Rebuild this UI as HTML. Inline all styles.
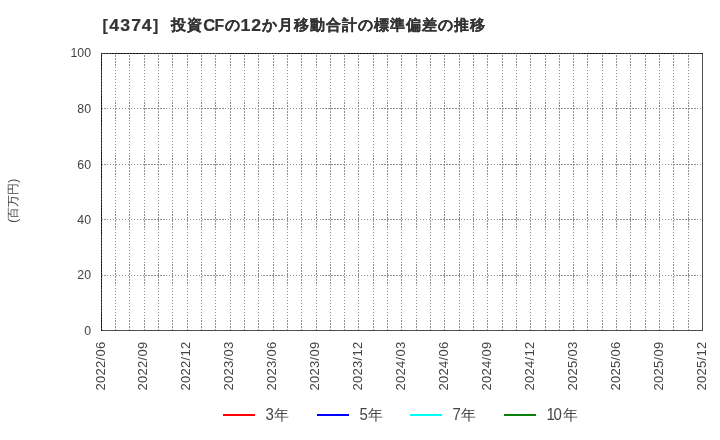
<!DOCTYPE html>
<html><head><meta charset="utf-8"><style>
html,body{margin:0;padding:0;background:#fff;width:720px;height:440px;overflow:hidden}
svg{display:block;will-change:transform} line,rect,path{shape-rendering:crispEdges}
text{font-family:"Liberation Sans",sans-serif;fill:#333}
.g{stroke:#8a8a8a;stroke-width:1;stroke-dasharray:1.963 0.981;fill:none;shape-rendering:auto}
.yl{font-size:13px;fill:#444}
.xl{font-size:13px;letter-spacing:0.3px;fill:#444}
.tl{font-size:15.8px;font-weight:bold;text-anchor:middle;stroke:#333;stroke-width:0.2px}
.tj{font-size:15px;font-weight:bold;text-anchor:middle;stroke:#333;stroke-width:0.15px}
.lg{font-size:15px;fill:#444}
</style></head><body>
<svg width="720" height="440" viewBox="0 0 720 440">
<text transform="translate(105.2,31) scale(1.0,1)" class="tl">[</text>
<text transform="translate(114.1,31) scale(1.12,1)" class="tl">4</text>
<text transform="translate(125.1,31) scale(1.12,1)" class="tl">3</text>
<text transform="translate(136.2,31) scale(1.12,1)" class="tl">7</text>
<text transform="translate(146.7,31) scale(1.12,1)" class="tl">4</text>
<text transform="translate(155.7,31) scale(1.0,1)" class="tl">]</text>
<text transform="translate(178.6,30) scale(1.0,1)" class="tj">投</text>
<text transform="translate(194.6,30) scale(1.0,1)" class="tj">資</text>
<text transform="translate(209.3,31) scale(1.05,1)" class="tl">C</text>
<text transform="translate(219.4,31) scale(1.0,1)" class="tl">F</text>
<text transform="translate(232.1,30) scale(1.0,1)" class="tj">の</text>
<text transform="translate(245.3,31) scale(1.12,1)" class="tl">1</text>
<text transform="translate(256.1,31) scale(1.12,1)" class="tl">2</text>
<text transform="translate(269.2,30) scale(1.0,1)" class="tj">か</text>
<text transform="translate(285,30) scale(1.0,1)" class="tj">月</text>
<text transform="translate(301,30) scale(1.0,1)" class="tj">移</text>
<text transform="translate(317,30) scale(1.0,1)" class="tj">動</text>
<text transform="translate(333,30) scale(1.0,1)" class="tj">合</text>
<text transform="translate(349,30) scale(1.0,1)" class="tj">計</text>
<text transform="translate(365,30) scale(1.0,1)" class="tj">の</text>
<text transform="translate(381,30) scale(1.0,1)" class="tj">標</text>
<text transform="translate(397,30) scale(1.0,1)" class="tj">準</text>
<text transform="translate(413,30) scale(1.0,1)" class="tj">偏</text>
<text transform="translate(429,30) scale(1.0,1)" class="tj">差</text>
<text transform="translate(445.5,30) scale(1.0,1)" class="tj">の</text>
<text transform="translate(461.5,30) scale(1.0,1)" class="tj">推</text>
<text transform="translate(477.3,30) scale(1.0,1)" class="tj">移</text>
<path fill="#000" fill-opacity="0.438" d="M115 55h1v2h-1zM115 58h1v2h-1zM115 61h1v2h-1zM115 64h1v2h-1zM115 67h1v1h-1zM115 70h1v1h-1zM115 73h1v1h-1zM115 76h1v1h-1zM115 79h1v1h-1zM115 82h1v1h-1zM115 85h1v1h-1zM115 88h1v1h-1zM115 91h1v1h-1zM115 94h1v1h-1zM115 97h1v1h-1zM115 100h1v1h-1zM115 102h1v2h-1zM115 105h1v2h-1zM115 108h1v2h-1zM115 111h1v2h-1zM115 114h1v2h-1zM115 117h1v2h-1zM115 120h1v1h-1zM115 123h1v1h-1zM115 126h1v1h-1zM115 129h1v1h-1zM115 132h1v1h-1zM115 135h1v1h-1zM115 138h1v1h-1zM115 141h1v1h-1zM115 144h1v1h-1zM115 147h1v1h-1zM115 150h1v1h-1zM115 153h1v1h-1zM115 155h1v2h-1zM115 158h1v2h-1zM115 161h1v2h-1zM115 164h1v2h-1zM115 167h1v2h-1zM115 170h1v2h-1zM115 173h1v2h-1zM115 176h1v1h-1zM115 179h1v1h-1zM115 182h1v1h-1zM115 185h1v1h-1zM115 188h1v1h-1zM115 191h1v1h-1zM115 194h1v1h-1zM115 197h1v1h-1zM115 200h1v1h-1zM115 203h1v1h-1zM115 206h1v1h-1zM115 209h1v1h-1zM115 211h1v2h-1zM115 214h1v2h-1zM115 217h1v2h-1zM115 220h1v2h-1zM115 223h1v2h-1zM115 226h1v2h-1zM115 229h1v1h-1zM115 232h1v1h-1zM115 235h1v1h-1zM115 238h1v1h-1zM115 241h1v1h-1zM115 244h1v1h-1zM115 247h1v1h-1zM115 250h1v1h-1zM115 253h1v1h-1zM115 256h1v1h-1zM115 259h1v1h-1zM115 262h1v1h-1zM115 264h1v2h-1zM115 267h1v2h-1zM115 270h1v2h-1zM115 273h1v2h-1zM115 276h1v2h-1zM115 279h1v2h-1zM115 282h1v2h-1zM115 285h1v1h-1zM115 288h1v1h-1zM115 291h1v1h-1zM115 294h1v1h-1zM115 297h1v1h-1zM115 300h1v1h-1zM115 303h1v1h-1zM115 306h1v1h-1zM115 309h1v1h-1zM115 312h1v1h-1zM115 315h1v1h-1zM115 318h1v1h-1zM115 320h1v2h-1zM115 323h1v2h-1zM115 326h1v2h-1zM115 329h1v1h-1zM129 55h1v2h-1zM129 58h1v2h-1zM129 61h1v2h-1zM129 64h1v2h-1zM129 67h1v1h-1zM129 70h1v1h-1zM129 73h1v1h-1zM129 76h1v1h-1zM129 79h1v1h-1zM129 82h1v1h-1zM129 85h1v1h-1zM129 88h1v1h-1zM129 91h1v1h-1zM129 94h1v1h-1zM129 97h1v1h-1zM129 100h1v1h-1zM129 102h1v2h-1zM129 105h1v2h-1zM129 108h1v2h-1zM129 111h1v2h-1zM129 114h1v2h-1zM129 117h1v2h-1zM129 120h1v1h-1zM129 123h1v1h-1zM129 126h1v1h-1zM129 129h1v1h-1zM129 132h1v1h-1zM129 135h1v1h-1zM129 138h1v1h-1zM129 141h1v1h-1zM129 144h1v1h-1zM129 147h1v1h-1zM129 150h1v1h-1zM129 153h1v1h-1zM129 155h1v2h-1zM129 158h1v2h-1zM129 161h1v2h-1zM129 164h1v2h-1zM129 167h1v2h-1zM129 170h1v2h-1zM129 173h1v2h-1zM129 176h1v1h-1zM129 179h1v1h-1zM129 182h1v1h-1zM129 185h1v1h-1zM129 188h1v1h-1zM129 191h1v1h-1zM129 194h1v1h-1zM129 197h1v1h-1zM129 200h1v1h-1zM129 203h1v1h-1zM129 206h1v1h-1zM129 209h1v1h-1zM129 211h1v2h-1zM129 214h1v2h-1zM129 217h1v2h-1zM129 220h1v2h-1zM129 223h1v2h-1zM129 226h1v2h-1zM129 229h1v1h-1zM129 232h1v1h-1zM129 235h1v1h-1zM129 238h1v1h-1zM129 241h1v1h-1zM129 244h1v1h-1zM129 247h1v1h-1zM129 250h1v1h-1zM129 253h1v1h-1zM129 256h1v1h-1zM129 259h1v1h-1zM129 262h1v1h-1zM129 264h1v2h-1zM129 267h1v2h-1zM129 270h1v2h-1zM129 273h1v2h-1zM129 276h1v2h-1zM129 279h1v2h-1zM129 282h1v2h-1zM129 285h1v1h-1zM129 288h1v1h-1zM129 291h1v1h-1zM129 294h1v1h-1zM129 297h1v1h-1zM129 300h1v1h-1zM129 303h1v1h-1zM129 306h1v1h-1zM129 309h1v1h-1zM129 312h1v1h-1zM129 315h1v1h-1zM129 318h1v1h-1zM129 320h1v2h-1zM129 323h1v2h-1zM129 326h1v2h-1zM129 329h1v1h-1zM144 55h1v2h-1zM144 58h1v2h-1zM144 61h1v2h-1zM144 64h1v2h-1zM144 67h1v1h-1zM144 70h1v1h-1zM144 73h1v1h-1zM144 76h1v1h-1zM144 79h1v1h-1zM144 82h1v1h-1zM144 85h1v1h-1zM144 88h1v1h-1zM144 91h1v1h-1zM144 94h1v1h-1zM144 97h1v1h-1zM144 100h1v1h-1zM144 102h1v2h-1zM144 105h1v2h-1zM144 108h1v2h-1zM144 111h1v2h-1zM144 114h1v2h-1zM144 117h1v2h-1zM144 120h1v1h-1zM144 123h1v1h-1zM144 126h1v1h-1zM144 129h1v1h-1zM144 132h1v1h-1zM144 135h1v1h-1zM144 138h1v1h-1zM144 141h1v1h-1zM144 144h1v1h-1zM144 147h1v1h-1zM144 150h1v1h-1zM144 153h1v1h-1zM144 155h1v2h-1zM144 158h1v2h-1zM144 161h1v2h-1zM144 164h1v2h-1zM144 167h1v2h-1zM144 170h1v2h-1zM144 173h1v2h-1zM144 176h1v1h-1zM144 179h1v1h-1zM144 182h1v1h-1zM144 185h1v1h-1zM144 188h1v1h-1zM144 191h1v1h-1zM144 194h1v1h-1zM144 197h1v1h-1zM144 200h1v1h-1zM144 203h1v1h-1zM144 206h1v1h-1zM144 209h1v1h-1zM144 211h1v2h-1zM144 214h1v2h-1zM144 217h1v2h-1zM144 220h1v2h-1zM144 223h1v2h-1zM144 226h1v2h-1zM144 229h1v1h-1zM144 232h1v1h-1zM144 235h1v1h-1zM144 238h1v1h-1zM144 241h1v1h-1zM144 244h1v1h-1zM144 247h1v1h-1zM144 250h1v1h-1zM144 253h1v1h-1zM144 256h1v1h-1zM144 259h1v1h-1zM144 262h1v1h-1zM144 264h1v2h-1zM144 267h1v2h-1zM144 270h1v2h-1zM144 273h1v2h-1zM144 276h1v2h-1zM144 279h1v2h-1zM144 282h1v2h-1zM144 285h1v1h-1zM144 288h1v1h-1zM144 291h1v1h-1zM144 294h1v1h-1zM144 297h1v1h-1zM144 300h1v1h-1zM144 303h1v1h-1zM144 306h1v1h-1zM144 309h1v1h-1zM144 312h1v1h-1zM144 315h1v1h-1zM144 318h1v1h-1zM144 320h1v2h-1zM144 323h1v2h-1zM144 326h1v2h-1zM144 329h1v1h-1zM158 55h1v2h-1zM158 58h1v2h-1zM158 61h1v2h-1zM158 64h1v2h-1zM158 67h1v1h-1zM158 70h1v1h-1zM158 73h1v1h-1zM158 76h1v1h-1zM158 79h1v1h-1zM158 82h1v1h-1zM158 85h1v1h-1zM158 88h1v1h-1zM158 91h1v1h-1zM158 94h1v1h-1zM158 97h1v1h-1zM158 100h1v1h-1zM158 102h1v2h-1zM158 105h1v2h-1zM158 108h1v2h-1zM158 111h1v2h-1zM158 114h1v2h-1zM158 117h1v2h-1zM158 120h1v1h-1zM158 123h1v1h-1zM158 126h1v1h-1zM158 129h1v1h-1zM158 132h1v1h-1zM158 135h1v1h-1zM158 138h1v1h-1zM158 141h1v1h-1zM158 144h1v1h-1zM158 147h1v1h-1zM158 150h1v1h-1zM158 153h1v1h-1zM158 155h1v2h-1zM158 158h1v2h-1zM158 161h1v2h-1zM158 164h1v2h-1zM158 167h1v2h-1zM158 170h1v2h-1zM158 173h1v2h-1zM158 176h1v1h-1zM158 179h1v1h-1zM158 182h1v1h-1zM158 185h1v1h-1zM158 188h1v1h-1zM158 191h1v1h-1zM158 194h1v1h-1zM158 197h1v1h-1zM158 200h1v1h-1zM158 203h1v1h-1zM158 206h1v1h-1zM158 209h1v1h-1zM158 211h1v2h-1zM158 214h1v2h-1zM158 217h1v5h-1zM158 223h1v2h-1zM158 226h1v2h-1zM158 229h1v1h-1zM158 232h1v1h-1zM158 235h1v1h-1zM158 238h1v1h-1zM158 241h1v1h-1zM158 244h1v1h-1zM158 247h1v1h-1zM158 250h1v1h-1zM158 253h1v1h-1zM158 256h1v1h-1zM158 259h1v1h-1zM158 262h1v1h-1zM158 264h1v2h-1zM158 267h1v2h-1zM158 270h1v2h-1zM158 273h1v5h-1zM158 279h1v2h-1zM158 282h1v2h-1zM158 285h1v1h-1zM158 288h1v1h-1zM158 291h1v1h-1zM158 294h1v1h-1zM158 297h1v1h-1zM158 300h1v1h-1zM158 303h1v1h-1zM158 306h1v1h-1zM158 309h1v1h-1zM158 312h1v1h-1zM158 315h1v1h-1zM158 318h1v1h-1zM158 320h1v2h-1zM158 323h1v2h-1zM158 326h1v2h-1zM158 329h1v1h-1zM172 55h1v2h-1zM172 58h1v2h-1zM172 61h1v2h-1zM172 64h1v2h-1zM172 67h1v1h-1zM172 70h1v1h-1zM172 73h1v1h-1zM172 76h1v1h-1zM172 79h1v1h-1zM172 82h1v1h-1zM172 85h1v1h-1zM172 88h1v1h-1zM172 91h1v1h-1zM172 94h1v1h-1zM172 97h1v1h-1zM172 100h1v1h-1zM172 102h1v2h-1zM172 105h1v2h-1zM172 108h1v2h-1zM172 111h1v2h-1zM172 114h1v2h-1zM172 117h1v2h-1zM172 120h1v1h-1zM172 123h1v1h-1zM172 126h1v1h-1zM172 129h1v1h-1zM172 132h1v1h-1zM172 135h1v1h-1zM172 138h1v1h-1zM172 141h1v1h-1zM172 144h1v1h-1zM172 147h1v1h-1zM172 150h1v1h-1zM172 153h1v1h-1zM172 155h1v2h-1zM172 158h1v2h-1zM172 161h1v2h-1zM172 164h1v2h-1zM172 167h1v2h-1zM172 170h1v2h-1zM172 173h1v2h-1zM172 176h1v1h-1zM172 179h1v1h-1zM172 182h1v1h-1zM172 185h1v1h-1zM172 188h1v1h-1zM172 191h1v1h-1zM172 194h1v1h-1zM172 197h1v1h-1zM172 200h1v1h-1zM172 203h1v1h-1zM172 206h1v1h-1zM172 209h1v1h-1zM172 211h1v2h-1zM172 214h1v2h-1zM172 217h1v5h-1zM172 223h1v2h-1zM172 226h1v2h-1zM172 229h1v1h-1zM172 232h1v1h-1zM172 235h1v1h-1zM172 238h1v1h-1zM172 241h1v1h-1zM172 244h1v1h-1zM172 247h1v1h-1zM172 250h1v1h-1zM172 253h1v1h-1zM172 256h1v1h-1zM172 259h1v1h-1zM172 262h1v1h-1zM172 264h1v2h-1zM172 267h1v2h-1zM172 270h1v2h-1zM172 273h1v5h-1zM172 279h1v2h-1zM172 282h1v2h-1zM172 285h1v1h-1zM172 288h1v1h-1zM172 291h1v1h-1zM172 294h1v1h-1zM172 297h1v1h-1zM172 300h1v1h-1zM172 303h1v1h-1zM172 306h1v1h-1zM172 309h1v1h-1zM172 312h1v1h-1zM172 315h1v1h-1zM172 318h1v1h-1zM172 320h1v2h-1zM172 323h1v2h-1zM172 326h1v2h-1zM172 329h1v1h-1zM187 55h1v2h-1zM187 58h1v2h-1zM187 61h1v2h-1zM187 64h1v2h-1zM187 67h1v1h-1zM187 70h1v1h-1zM187 73h1v1h-1zM187 76h1v1h-1zM187 79h1v1h-1zM187 82h1v1h-1zM187 85h1v1h-1zM187 88h1v1h-1zM187 91h1v1h-1zM187 94h1v1h-1zM187 97h1v1h-1zM187 100h1v1h-1zM187 102h1v2h-1zM187 105h1v2h-1zM187 108h1v2h-1zM187 111h1v2h-1zM187 114h1v2h-1zM187 117h1v2h-1zM187 120h1v1h-1zM187 123h1v1h-1zM187 126h1v1h-1zM187 129h1v1h-1zM187 132h1v1h-1zM187 135h1v1h-1zM187 138h1v1h-1zM187 141h1v1h-1zM187 144h1v1h-1zM187 147h1v1h-1zM187 150h1v1h-1zM187 153h1v1h-1zM187 155h1v2h-1zM187 158h1v2h-1zM187 161h1v2h-1zM187 164h1v2h-1zM187 167h1v2h-1zM187 170h1v2h-1zM187 173h1v2h-1zM187 176h1v1h-1zM187 179h1v1h-1zM187 182h1v1h-1zM187 185h1v1h-1zM187 188h1v1h-1zM187 191h1v1h-1zM187 194h1v1h-1zM187 197h1v1h-1zM187 200h1v1h-1zM187 203h1v1h-1zM187 206h1v1h-1zM187 209h1v1h-1zM187 211h1v2h-1zM187 214h1v2h-1zM187 217h1v5h-1zM187 223h1v2h-1zM187 226h1v2h-1zM187 229h1v1h-1zM187 232h1v1h-1zM187 235h1v1h-1zM187 238h1v1h-1zM187 241h1v1h-1zM187 244h1v1h-1zM187 247h1v1h-1zM187 250h1v1h-1zM187 253h1v1h-1zM187 256h1v1h-1zM187 259h1v1h-1zM187 262h1v1h-1zM187 264h1v2h-1zM187 267h1v2h-1zM187 270h1v2h-1zM187 273h1v5h-1zM187 279h1v2h-1zM187 282h1v2h-1zM187 285h1v1h-1zM187 288h1v1h-1zM187 291h1v1h-1zM187 294h1v1h-1zM187 297h1v1h-1zM187 300h1v1h-1zM187 303h1v1h-1zM187 306h1v1h-1zM187 309h1v1h-1zM187 312h1v1h-1zM187 315h1v1h-1zM187 318h1v1h-1zM187 320h1v2h-1zM187 323h1v2h-1zM187 326h1v2h-1zM187 329h1v1h-1zM201 55h1v2h-1zM201 58h1v2h-1zM201 61h1v2h-1zM201 64h1v2h-1zM201 67h1v1h-1zM201 70h1v1h-1zM201 73h1v1h-1zM201 76h1v1h-1zM201 79h1v1h-1zM201 82h1v1h-1zM201 85h1v1h-1zM201 88h1v1h-1zM201 91h1v1h-1zM201 94h1v1h-1zM201 97h1v1h-1zM201 100h1v1h-1zM201 102h1v2h-1zM201 105h1v2h-1zM201 108h1v2h-1zM201 111h1v2h-1zM201 114h1v2h-1zM201 117h1v2h-1zM201 120h1v1h-1zM201 123h1v1h-1zM201 126h1v1h-1zM201 129h1v1h-1zM201 132h1v1h-1zM201 135h1v1h-1zM201 138h1v1h-1zM201 141h1v1h-1zM201 144h1v1h-1zM201 147h1v1h-1zM201 150h1v1h-1zM201 153h1v1h-1zM201 155h1v2h-1zM201 158h1v2h-1zM201 161h1v2h-1zM201 164h1v2h-1zM201 167h1v2h-1zM201 170h1v2h-1zM201 173h1v2h-1zM201 176h1v1h-1zM201 179h1v1h-1zM201 182h1v1h-1zM201 185h1v1h-1zM201 188h1v1h-1zM201 191h1v1h-1zM201 194h1v1h-1zM201 197h1v1h-1zM201 200h1v1h-1zM201 203h1v1h-1zM201 206h1v1h-1zM201 209h1v1h-1zM201 211h1v2h-1zM201 214h1v2h-1zM201 217h1v2h-1zM201 220h1v2h-1zM201 223h1v2h-1zM201 226h1v2h-1zM201 229h1v1h-1zM201 232h1v1h-1zM201 235h1v1h-1zM201 238h1v1h-1zM201 241h1v1h-1zM201 244h1v1h-1zM201 247h1v1h-1zM201 250h1v1h-1zM201 253h1v1h-1zM201 256h1v1h-1zM201 259h1v1h-1zM201 262h1v1h-1zM201 264h1v2h-1zM201 267h1v2h-1zM201 270h1v2h-1zM201 273h1v2h-1zM201 276h1v2h-1zM201 279h1v2h-1zM201 282h1v2h-1zM201 285h1v1h-1zM201 288h1v1h-1zM201 291h1v1h-1zM201 294h1v1h-1zM201 297h1v1h-1zM201 300h1v1h-1zM201 303h1v1h-1zM201 306h1v1h-1zM201 309h1v1h-1zM201 312h1v1h-1zM201 315h1v1h-1zM201 318h1v1h-1zM201 320h1v2h-1zM201 323h1v2h-1zM201 326h1v2h-1zM201 329h1v1h-1zM215 55h1v2h-1zM215 58h1v2h-1zM215 61h1v2h-1zM215 64h1v2h-1zM215 67h1v1h-1zM215 70h1v1h-1zM215 73h1v1h-1zM215 76h1v1h-1zM215 79h1v1h-1zM215 82h1v1h-1zM215 85h1v1h-1zM215 88h1v1h-1zM215 91h1v1h-1zM215 94h1v1h-1zM215 97h1v1h-1zM215 100h1v1h-1zM215 102h1v2h-1zM215 105h1v2h-1zM215 108h1v2h-1zM215 111h1v2h-1zM215 114h1v2h-1zM215 117h1v2h-1zM215 120h1v1h-1zM215 123h1v1h-1zM215 126h1v1h-1zM215 129h1v1h-1zM215 132h1v1h-1zM215 135h1v1h-1zM215 138h1v1h-1zM215 141h1v1h-1zM215 144h1v1h-1zM215 147h1v1h-1zM215 150h1v1h-1zM215 153h1v1h-1zM215 155h1v2h-1zM215 158h1v2h-1zM215 161h1v2h-1zM215 164h1v2h-1zM215 167h1v2h-1zM215 170h1v2h-1zM215 173h1v2h-1zM215 176h1v1h-1zM215 179h1v1h-1zM215 182h1v1h-1zM215 185h1v1h-1zM215 188h1v1h-1zM215 191h1v1h-1zM215 194h1v1h-1zM215 197h1v1h-1zM215 200h1v1h-1zM215 203h1v1h-1zM215 206h1v1h-1zM215 209h1v1h-1zM215 211h1v2h-1zM215 214h1v2h-1zM215 217h1v2h-1zM215 220h1v2h-1zM215 223h1v2h-1zM215 226h1v2h-1zM215 229h1v1h-1zM215 232h1v1h-1zM215 235h1v1h-1zM215 238h1v1h-1zM215 241h1v1h-1zM215 244h1v1h-1zM215 247h1v1h-1zM215 250h1v1h-1zM215 253h1v1h-1zM215 256h1v1h-1zM215 259h1v1h-1zM215 262h1v1h-1zM215 264h1v2h-1zM215 267h1v2h-1zM215 270h1v2h-1zM215 273h1v2h-1zM215 276h1v2h-1zM215 279h1v2h-1zM215 282h1v2h-1zM215 285h1v1h-1zM215 288h1v1h-1zM215 291h1v1h-1zM215 294h1v1h-1zM215 297h1v1h-1zM215 300h1v1h-1zM215 303h1v1h-1zM215 306h1v1h-1zM215 309h1v1h-1zM215 312h1v1h-1zM215 315h1v1h-1zM215 318h1v1h-1zM215 320h1v2h-1zM215 323h1v2h-1zM215 326h1v2h-1zM215 329h1v1h-1zM230 55h1v2h-1zM230 58h1v2h-1zM230 61h1v2h-1zM230 64h1v2h-1zM230 67h1v1h-1zM230 70h1v1h-1zM230 73h1v1h-1zM230 76h1v1h-1zM230 79h1v1h-1zM230 82h1v1h-1zM230 85h1v1h-1zM230 88h1v1h-1zM230 91h1v1h-1zM230 94h1v1h-1zM230 97h1v1h-1zM230 100h1v1h-1zM230 102h1v2h-1zM230 105h1v2h-1zM230 108h1v2h-1zM230 111h1v2h-1zM230 114h1v2h-1zM230 117h1v2h-1zM230 120h1v1h-1zM230 123h1v1h-1zM230 126h1v1h-1zM230 129h1v1h-1zM230 132h1v1h-1zM230 135h1v1h-1zM230 138h1v1h-1zM230 141h1v1h-1zM230 144h1v1h-1zM230 147h1v1h-1zM230 150h1v1h-1zM230 153h1v1h-1zM230 155h1v2h-1zM230 158h1v2h-1zM230 161h1v2h-1zM230 164h1v2h-1zM230 167h1v2h-1zM230 170h1v2h-1zM230 173h1v2h-1zM230 176h1v1h-1zM230 179h1v1h-1zM230 182h1v1h-1zM230 185h1v1h-1zM230 188h1v1h-1zM230 191h1v1h-1zM230 194h1v1h-1zM230 197h1v1h-1zM230 200h1v1h-1zM230 203h1v1h-1zM230 206h1v1h-1zM230 209h1v1h-1zM230 211h1v2h-1zM230 214h1v2h-1zM230 217h1v2h-1zM230 220h1v2h-1zM230 223h1v2h-1zM230 226h1v2h-1zM230 229h1v1h-1zM230 232h1v1h-1zM230 235h1v1h-1zM230 238h1v1h-1zM230 241h1v1h-1zM230 244h1v1h-1zM230 247h1v1h-1zM230 250h1v1h-1zM230 253h1v1h-1zM230 256h1v1h-1zM230 259h1v1h-1zM230 262h1v1h-1zM230 264h1v2h-1zM230 267h1v2h-1zM230 270h1v2h-1zM230 273h1v2h-1zM230 276h1v2h-1zM230 279h1v2h-1zM230 282h1v2h-1zM230 285h1v1h-1zM230 288h1v1h-1zM230 291h1v1h-1zM230 294h1v1h-1zM230 297h1v1h-1zM230 300h1v1h-1zM230 303h1v1h-1zM230 306h1v1h-1zM230 309h1v1h-1zM230 312h1v1h-1zM230 315h1v1h-1zM230 318h1v1h-1zM230 320h1v2h-1zM230 323h1v2h-1zM230 326h1v2h-1zM230 329h1v1h-1zM244 55h1v2h-1zM244 58h1v2h-1zM244 61h1v2h-1zM244 64h1v2h-1zM244 67h1v1h-1zM244 70h1v1h-1zM244 73h1v1h-1zM244 76h1v1h-1zM244 79h1v1h-1zM244 82h1v1h-1zM244 85h1v1h-1zM244 88h1v1h-1zM244 91h1v1h-1zM244 94h1v1h-1zM244 97h1v1h-1zM244 100h1v1h-1zM244 102h1v2h-1zM244 105h1v2h-1zM244 108h1v2h-1zM244 111h1v2h-1zM244 114h1v2h-1zM244 117h1v2h-1zM244 120h1v1h-1zM244 123h1v1h-1zM244 126h1v1h-1zM244 129h1v1h-1zM244 132h1v1h-1zM244 135h1v1h-1zM244 138h1v1h-1zM244 141h1v1h-1zM244 144h1v1h-1zM244 147h1v1h-1zM244 150h1v1h-1zM244 153h1v1h-1zM244 155h1v2h-1zM244 158h1v2h-1zM244 161h1v2h-1zM244 164h1v2h-1zM244 167h1v2h-1zM244 170h1v2h-1zM244 173h1v2h-1zM244 176h1v1h-1zM244 179h1v1h-1zM244 182h1v1h-1zM244 185h1v1h-1zM244 188h1v1h-1zM244 191h1v1h-1zM244 194h1v1h-1zM244 197h1v1h-1zM244 200h1v1h-1zM244 203h1v1h-1zM244 206h1v1h-1zM244 209h1v1h-1zM244 211h1v2h-1zM244 214h1v2h-1zM244 217h1v2h-1zM244 220h1v2h-1zM244 223h1v2h-1zM244 226h1v2h-1zM244 229h1v1h-1zM244 232h1v1h-1zM244 235h1v1h-1zM244 238h1v1h-1zM244 241h1v1h-1zM244 244h1v1h-1zM244 247h1v1h-1zM244 250h1v1h-1zM244 253h1v1h-1zM244 256h1v1h-1zM244 259h1v1h-1zM244 262h1v1h-1zM244 264h1v2h-1zM244 267h1v2h-1zM244 270h1v2h-1zM244 273h1v2h-1zM244 276h1v2h-1zM244 279h1v2h-1zM244 282h1v2h-1zM244 285h1v1h-1zM244 288h1v1h-1zM244 291h1v1h-1zM244 294h1v1h-1zM244 297h1v1h-1zM244 300h1v1h-1zM244 303h1v1h-1zM244 306h1v1h-1zM244 309h1v1h-1zM244 312h1v1h-1zM244 315h1v1h-1zM244 318h1v1h-1zM244 320h1v2h-1zM244 323h1v2h-1zM244 326h1v2h-1zM244 329h1v1h-1zM258 55h1v2h-1zM258 58h1v2h-1zM258 61h1v2h-1zM258 64h1v2h-1zM258 67h1v1h-1zM258 70h1v1h-1zM258 73h1v1h-1zM258 76h1v1h-1zM258 79h1v1h-1zM258 82h1v1h-1zM258 85h1v1h-1zM258 88h1v1h-1zM258 91h1v1h-1zM258 94h1v1h-1zM258 97h1v1h-1zM258 100h1v1h-1zM258 102h1v2h-1zM258 105h1v2h-1zM258 108h1v2h-1zM258 111h1v2h-1zM258 114h1v2h-1zM258 117h1v2h-1zM258 120h1v1h-1zM258 123h1v1h-1zM258 126h1v1h-1zM258 129h1v1h-1zM258 132h1v1h-1zM258 135h1v1h-1zM258 138h1v1h-1zM258 141h1v1h-1zM258 144h1v1h-1zM258 147h1v1h-1zM258 150h1v1h-1zM258 153h1v1h-1zM258 155h1v2h-1zM258 158h1v2h-1zM258 161h1v2h-1zM258 164h1v2h-1zM258 167h1v2h-1zM258 170h1v2h-1zM258 173h1v2h-1zM258 176h1v1h-1zM258 179h1v1h-1zM258 182h1v1h-1zM258 185h1v1h-1zM258 188h1v1h-1zM258 191h1v1h-1zM258 194h1v1h-1zM258 197h1v1h-1zM258 200h1v1h-1zM258 203h1v1h-1zM258 206h1v1h-1zM258 209h1v1h-1zM258 211h1v2h-1zM258 214h1v2h-1zM258 217h1v5h-1zM258 223h1v2h-1zM258 226h1v2h-1zM258 229h1v1h-1zM258 232h1v1h-1zM258 235h1v1h-1zM258 238h1v1h-1zM258 241h1v1h-1zM258 244h1v1h-1zM258 247h1v1h-1zM258 250h1v1h-1zM258 253h1v1h-1zM258 256h1v1h-1zM258 259h1v1h-1zM258 262h1v1h-1zM258 264h1v2h-1zM258 267h1v2h-1zM258 270h1v2h-1zM258 273h1v5h-1zM258 279h1v2h-1zM258 282h1v2h-1zM258 285h1v1h-1zM258 288h1v1h-1zM258 291h1v1h-1zM258 294h1v1h-1zM258 297h1v1h-1zM258 300h1v1h-1zM258 303h1v1h-1zM258 306h1v1h-1zM258 309h1v1h-1zM258 312h1v1h-1zM258 315h1v1h-1zM258 318h1v1h-1zM258 320h1v2h-1zM258 323h1v2h-1zM258 326h1v2h-1zM258 329h1v1h-1zM273 55h1v2h-1zM273 58h1v2h-1zM273 61h1v2h-1zM273 64h1v2h-1zM273 67h1v1h-1zM273 70h1v1h-1zM273 73h1v1h-1zM273 76h1v1h-1zM273 79h1v1h-1zM273 82h1v1h-1zM273 85h1v1h-1zM273 88h1v1h-1zM273 91h1v1h-1zM273 94h1v1h-1zM273 97h1v1h-1zM273 100h1v1h-1zM273 102h1v2h-1zM273 105h1v2h-1zM273 108h1v2h-1zM273 111h1v2h-1zM273 114h1v2h-1zM273 117h1v2h-1zM273 120h1v1h-1zM273 123h1v1h-1zM273 126h1v1h-1zM273 129h1v1h-1zM273 132h1v1h-1zM273 135h1v1h-1zM273 138h1v1h-1zM273 141h1v1h-1zM273 144h1v1h-1zM273 147h1v1h-1zM273 150h1v1h-1zM273 153h1v1h-1zM273 155h1v2h-1zM273 158h1v2h-1zM273 161h1v2h-1zM273 164h1v2h-1zM273 167h1v2h-1zM273 170h1v2h-1zM273 173h1v2h-1zM273 176h1v1h-1zM273 179h1v1h-1zM273 182h1v1h-1zM273 185h1v1h-1zM273 188h1v1h-1zM273 191h1v1h-1zM273 194h1v1h-1zM273 197h1v1h-1zM273 200h1v1h-1zM273 203h1v1h-1zM273 206h1v1h-1zM273 209h1v1h-1zM273 211h1v2h-1zM273 214h1v2h-1zM273 217h1v5h-1zM273 223h1v2h-1zM273 226h1v2h-1zM273 229h1v1h-1zM273 232h1v1h-1zM273 235h1v1h-1zM273 238h1v1h-1zM273 241h1v1h-1zM273 244h1v1h-1zM273 247h1v1h-1zM273 250h1v1h-1zM273 253h1v1h-1zM273 256h1v1h-1zM273 259h1v1h-1zM273 262h1v1h-1zM273 264h1v2h-1zM273 267h1v2h-1zM273 270h1v2h-1zM273 273h1v5h-1zM273 279h1v2h-1zM273 282h1v2h-1zM273 285h1v1h-1zM273 288h1v1h-1zM273 291h1v1h-1zM273 294h1v1h-1zM273 297h1v1h-1zM273 300h1v1h-1zM273 303h1v1h-1zM273 306h1v1h-1zM273 309h1v1h-1zM273 312h1v1h-1zM273 315h1v1h-1zM273 318h1v1h-1zM273 320h1v2h-1zM273 323h1v2h-1zM273 326h1v2h-1zM273 329h1v1h-1zM287 55h1v2h-1zM287 58h1v2h-1zM287 61h1v2h-1zM287 64h1v2h-1zM287 67h1v1h-1zM287 70h1v1h-1zM287 73h1v1h-1zM287 76h1v1h-1zM287 79h1v1h-1zM287 82h1v1h-1zM287 85h1v1h-1zM287 88h1v1h-1zM287 91h1v1h-1zM287 94h1v1h-1zM287 97h1v1h-1zM287 100h1v1h-1zM287 102h1v2h-1zM287 105h1v2h-1zM287 108h1v2h-1zM287 111h1v2h-1zM287 114h1v2h-1zM287 117h1v2h-1zM287 120h1v1h-1zM287 123h1v1h-1zM287 126h1v1h-1zM287 129h1v1h-1zM287 132h1v1h-1zM287 135h1v1h-1zM287 138h1v1h-1zM287 141h1v1h-1zM287 144h1v1h-1zM287 147h1v1h-1zM287 150h1v1h-1zM287 153h1v1h-1zM287 155h1v2h-1zM287 158h1v2h-1zM287 161h1v2h-1zM287 164h1v2h-1zM287 167h1v2h-1zM287 170h1v2h-1zM287 173h1v2h-1zM287 176h1v1h-1zM287 179h1v1h-1zM287 182h1v1h-1zM287 185h1v1h-1zM287 188h1v1h-1zM287 191h1v1h-1zM287 194h1v1h-1zM287 197h1v1h-1zM287 200h1v1h-1zM287 203h1v1h-1zM287 206h1v1h-1zM287 209h1v1h-1zM287 211h1v2h-1zM287 214h1v2h-1zM287 217h1v5h-1zM287 223h1v2h-1zM287 226h1v2h-1zM287 229h1v1h-1zM287 232h1v1h-1zM287 235h1v1h-1zM287 238h1v1h-1zM287 241h1v1h-1zM287 244h1v1h-1zM287 247h1v1h-1zM287 250h1v1h-1zM287 253h1v1h-1zM287 256h1v1h-1zM287 259h1v1h-1zM287 262h1v1h-1zM287 264h1v2h-1zM287 267h1v2h-1zM287 270h1v2h-1zM287 273h1v5h-1zM287 279h1v2h-1zM287 282h1v2h-1zM287 285h1v1h-1zM287 288h1v1h-1zM287 291h1v1h-1zM287 294h1v1h-1zM287 297h1v1h-1zM287 300h1v1h-1zM287 303h1v1h-1zM287 306h1v1h-1zM287 309h1v1h-1zM287 312h1v1h-1zM287 315h1v1h-1zM287 318h1v1h-1zM287 320h1v2h-1zM287 323h1v2h-1zM287 326h1v2h-1zM287 329h1v1h-1zM301 55h1v2h-1zM301 58h1v2h-1zM301 61h1v2h-1zM301 64h1v2h-1zM301 67h1v1h-1zM301 70h1v1h-1zM301 73h1v1h-1zM301 76h1v1h-1zM301 79h1v1h-1zM301 82h1v1h-1zM301 85h1v1h-1zM301 88h1v1h-1zM301 91h1v1h-1zM301 94h1v1h-1zM301 97h1v1h-1zM301 100h1v1h-1zM301 102h1v2h-1zM301 105h1v2h-1zM301 108h1v2h-1zM301 111h1v2h-1zM301 114h1v2h-1zM301 117h1v2h-1zM301 120h1v1h-1zM301 123h1v1h-1zM301 126h1v1h-1zM301 129h1v1h-1zM301 132h1v1h-1zM301 135h1v1h-1zM301 138h1v1h-1zM301 141h1v1h-1zM301 144h1v1h-1zM301 147h1v1h-1zM301 150h1v1h-1zM301 153h1v1h-1zM301 155h1v2h-1zM301 158h1v2h-1zM301 161h1v2h-1zM301 164h1v2h-1zM301 167h1v2h-1zM301 170h1v2h-1zM301 173h1v2h-1zM301 176h1v1h-1zM301 179h1v1h-1zM301 182h1v1h-1zM301 185h1v1h-1zM301 188h1v1h-1zM301 191h1v1h-1zM301 194h1v1h-1zM301 197h1v1h-1zM301 200h1v1h-1zM301 203h1v1h-1zM301 206h1v1h-1zM301 209h1v1h-1zM301 211h1v2h-1zM301 214h1v2h-1zM301 217h1v2h-1zM301 220h1v2h-1zM301 223h1v2h-1zM301 226h1v2h-1zM301 229h1v1h-1zM301 232h1v1h-1zM301 235h1v1h-1zM301 238h1v1h-1zM301 241h1v1h-1zM301 244h1v1h-1zM301 247h1v1h-1zM301 250h1v1h-1zM301 253h1v1h-1zM301 256h1v1h-1zM301 259h1v1h-1zM301 262h1v1h-1zM301 264h1v2h-1zM301 267h1v2h-1zM301 270h1v2h-1zM301 273h1v2h-1zM301 276h1v2h-1zM301 279h1v2h-1zM301 282h1v2h-1zM301 285h1v1h-1zM301 288h1v1h-1zM301 291h1v1h-1zM301 294h1v1h-1zM301 297h1v1h-1zM301 300h1v1h-1zM301 303h1v1h-1zM301 306h1v1h-1zM301 309h1v1h-1zM301 312h1v1h-1zM301 315h1v1h-1zM301 318h1v1h-1zM301 320h1v2h-1zM301 323h1v2h-1zM301 326h1v2h-1zM301 329h1v1h-1zM316 55h1v2h-1zM316 58h1v2h-1zM316 61h1v2h-1zM316 64h1v2h-1zM316 67h1v1h-1zM316 70h1v1h-1zM316 73h1v1h-1zM316 76h1v1h-1zM316 79h1v1h-1zM316 82h1v1h-1zM316 85h1v1h-1zM316 88h1v1h-1zM316 91h1v1h-1zM316 94h1v1h-1zM316 97h1v1h-1zM316 100h1v1h-1zM316 102h1v2h-1zM316 105h1v2h-1zM316 108h1v2h-1zM316 111h1v2h-1zM316 114h1v2h-1zM316 117h1v2h-1zM316 120h1v1h-1zM316 123h1v1h-1zM316 126h1v1h-1zM316 129h1v1h-1zM316 132h1v1h-1zM316 135h1v1h-1zM316 138h1v1h-1zM316 141h1v1h-1zM316 144h1v1h-1zM316 147h1v1h-1zM316 150h1v1h-1zM316 153h1v1h-1zM316 155h1v2h-1zM316 158h1v2h-1zM316 161h1v2h-1zM316 164h1v2h-1zM316 167h1v2h-1zM316 170h1v2h-1zM316 173h1v2h-1zM316 176h1v1h-1zM316 179h1v1h-1zM316 182h1v1h-1zM316 185h1v1h-1zM316 188h1v1h-1zM316 191h1v1h-1zM316 194h1v1h-1zM316 197h1v1h-1zM316 200h1v1h-1zM316 203h1v1h-1zM316 206h1v1h-1zM316 209h1v1h-1zM316 211h1v2h-1zM316 214h1v2h-1zM316 217h1v2h-1zM316 220h1v2h-1zM316 223h1v2h-1zM316 226h1v2h-1zM316 229h1v1h-1zM316 232h1v1h-1zM316 235h1v1h-1zM316 238h1v1h-1zM316 241h1v1h-1zM316 244h1v1h-1zM316 247h1v1h-1zM316 250h1v1h-1zM316 253h1v1h-1zM316 256h1v1h-1zM316 259h1v1h-1zM316 262h1v1h-1zM316 264h1v2h-1zM316 267h1v2h-1zM316 270h1v2h-1zM316 273h1v2h-1zM316 276h1v2h-1zM316 279h1v2h-1zM316 282h1v2h-1zM316 285h1v1h-1zM316 288h1v1h-1zM316 291h1v1h-1zM316 294h1v1h-1zM316 297h1v1h-1zM316 300h1v1h-1zM316 303h1v1h-1zM316 306h1v1h-1zM316 309h1v1h-1zM316 312h1v1h-1zM316 315h1v1h-1zM316 318h1v1h-1zM316 320h1v2h-1zM316 323h1v2h-1zM316 326h1v2h-1zM316 329h1v1h-1zM330 55h1v2h-1zM330 58h1v2h-1zM330 61h1v2h-1zM330 64h1v2h-1zM330 67h1v1h-1zM330 70h1v1h-1zM330 73h1v1h-1zM330 76h1v1h-1zM330 79h1v1h-1zM330 82h1v1h-1zM330 85h1v1h-1zM330 88h1v1h-1zM330 91h1v1h-1zM330 94h1v1h-1zM330 97h1v1h-1zM330 100h1v1h-1zM330 102h1v2h-1zM330 105h1v2h-1zM330 108h1v2h-1zM330 111h1v2h-1zM330 114h1v2h-1zM330 117h1v2h-1zM330 120h1v1h-1zM330 123h1v1h-1zM330 126h1v1h-1zM330 129h1v1h-1zM330 132h1v1h-1zM330 135h1v1h-1zM330 138h1v1h-1zM330 141h1v1h-1zM330 144h1v1h-1zM330 147h1v1h-1zM330 150h1v1h-1zM330 153h1v1h-1zM330 155h1v2h-1zM330 158h1v2h-1zM330 161h1v2h-1zM330 164h1v2h-1zM330 167h1v2h-1zM330 170h1v2h-1zM330 173h1v2h-1zM330 176h1v1h-1zM330 179h1v1h-1zM330 182h1v1h-1zM330 185h1v1h-1zM330 188h1v1h-1zM330 191h1v1h-1zM330 194h1v1h-1zM330 197h1v1h-1zM330 200h1v1h-1zM330 203h1v1h-1zM330 206h1v1h-1zM330 209h1v1h-1zM330 211h1v2h-1zM330 214h1v2h-1zM330 217h1v2h-1zM330 220h1v2h-1zM330 223h1v2h-1zM330 226h1v2h-1zM330 229h1v1h-1zM330 232h1v1h-1zM330 235h1v1h-1zM330 238h1v1h-1zM330 241h1v1h-1zM330 244h1v1h-1zM330 247h1v1h-1zM330 250h1v1h-1zM330 253h1v1h-1zM330 256h1v1h-1zM330 259h1v1h-1zM330 262h1v1h-1zM330 264h1v2h-1zM330 267h1v2h-1zM330 270h1v2h-1zM330 273h1v2h-1zM330 276h1v2h-1zM330 279h1v2h-1zM330 282h1v2h-1zM330 285h1v1h-1zM330 288h1v1h-1zM330 291h1v1h-1zM330 294h1v1h-1zM330 297h1v1h-1zM330 300h1v1h-1zM330 303h1v1h-1zM330 306h1v1h-1zM330 309h1v1h-1zM330 312h1v1h-1zM330 315h1v1h-1zM330 318h1v1h-1zM330 320h1v2h-1zM330 323h1v2h-1zM330 326h1v2h-1zM330 329h1v1h-1zM344 55h1v2h-1zM344 58h1v2h-1zM344 61h1v2h-1zM344 64h1v2h-1zM344 67h1v1h-1zM344 70h1v1h-1zM344 73h1v1h-1zM344 76h1v1h-1zM344 79h1v1h-1zM344 82h1v1h-1zM344 85h1v1h-1zM344 88h1v1h-1zM344 91h1v1h-1zM344 94h1v1h-1zM344 97h1v1h-1zM344 100h1v1h-1zM344 102h1v2h-1zM344 105h1v2h-1zM344 108h1v2h-1zM344 111h1v2h-1zM344 114h1v2h-1zM344 117h1v2h-1zM344 120h1v1h-1zM344 123h1v1h-1zM344 126h1v1h-1zM344 129h1v1h-1zM344 132h1v1h-1zM344 135h1v1h-1zM344 138h1v1h-1zM344 141h1v1h-1zM344 144h1v1h-1zM344 147h1v1h-1zM344 150h1v1h-1zM344 153h1v1h-1zM344 155h1v2h-1zM344 158h1v2h-1zM344 161h1v2h-1zM344 164h1v2h-1zM344 167h1v2h-1zM344 170h1v2h-1zM344 173h1v2h-1zM344 176h1v1h-1zM344 179h1v1h-1zM344 182h1v1h-1zM344 185h1v1h-1zM344 188h1v1h-1zM344 191h1v1h-1zM344 194h1v1h-1zM344 197h1v1h-1zM344 200h1v1h-1zM344 203h1v1h-1zM344 206h1v1h-1zM344 209h1v1h-1zM344 211h1v2h-1zM344 214h1v2h-1zM344 217h1v2h-1zM344 220h1v2h-1zM344 223h1v2h-1zM344 226h1v2h-1zM344 229h1v1h-1zM344 232h1v1h-1zM344 235h1v1h-1zM344 238h1v1h-1zM344 241h1v1h-1zM344 244h1v1h-1zM344 247h1v1h-1zM344 250h1v1h-1zM344 253h1v1h-1zM344 256h1v1h-1zM344 259h1v1h-1zM344 262h1v1h-1zM344 264h1v2h-1zM344 267h1v2h-1zM344 270h1v2h-1zM344 273h1v2h-1zM344 276h1v2h-1zM344 279h1v2h-1zM344 282h1v2h-1zM344 285h1v1h-1zM344 288h1v1h-1zM344 291h1v1h-1zM344 294h1v1h-1zM344 297h1v1h-1zM344 300h1v1h-1zM344 303h1v1h-1zM344 306h1v1h-1zM344 309h1v1h-1zM344 312h1v1h-1zM344 315h1v1h-1zM344 318h1v1h-1zM344 320h1v2h-1zM344 323h1v2h-1zM344 326h1v2h-1zM344 329h1v1h-1zM358 55h1v2h-1zM358 58h1v2h-1zM358 61h1v2h-1zM358 64h1v2h-1zM358 67h1v1h-1zM358 70h1v1h-1zM358 73h1v1h-1zM358 76h1v1h-1zM358 79h1v1h-1zM358 82h1v1h-1zM358 85h1v1h-1zM358 88h1v1h-1zM358 91h1v1h-1zM358 94h1v1h-1zM358 97h1v1h-1zM358 100h1v1h-1zM358 102h1v2h-1zM358 105h1v2h-1zM358 108h1v2h-1zM358 111h1v2h-1zM358 114h1v2h-1zM358 117h1v2h-1zM358 120h1v1h-1zM358 123h1v1h-1zM358 126h1v1h-1zM358 129h1v1h-1zM358 132h1v1h-1zM358 135h1v1h-1zM358 138h1v1h-1zM358 141h1v1h-1zM358 144h1v1h-1zM358 147h1v1h-1zM358 150h1v1h-1zM358 153h1v1h-1zM358 155h1v2h-1zM358 158h1v2h-1zM358 161h1v2h-1zM358 164h1v2h-1zM358 167h1v2h-1zM358 170h1v2h-1zM358 173h1v2h-1zM358 176h1v1h-1zM358 179h1v1h-1zM358 182h1v1h-1zM358 185h1v1h-1zM358 188h1v1h-1zM358 191h1v1h-1zM358 194h1v1h-1zM358 197h1v1h-1zM358 200h1v1h-1zM358 203h1v1h-1zM358 206h1v1h-1zM358 209h1v1h-1zM358 211h1v2h-1zM358 214h1v2h-1zM358 217h1v5h-1zM358 223h1v2h-1zM358 226h1v2h-1zM358 229h1v1h-1zM358 232h1v1h-1zM358 235h1v1h-1zM358 238h1v1h-1zM358 241h1v1h-1zM358 244h1v1h-1zM358 247h1v1h-1zM358 250h1v1h-1zM358 253h1v1h-1zM358 256h1v1h-1zM358 259h1v1h-1zM358 262h1v1h-1zM358 264h1v2h-1zM358 267h1v2h-1zM358 270h1v2h-1zM358 273h1v5h-1zM358 279h1v2h-1zM358 282h1v2h-1zM358 285h1v1h-1zM358 288h1v1h-1zM358 291h1v1h-1zM358 294h1v1h-1zM358 297h1v1h-1zM358 300h1v1h-1zM358 303h1v1h-1zM358 306h1v1h-1zM358 309h1v1h-1zM358 312h1v1h-1zM358 315h1v1h-1zM358 318h1v1h-1zM358 320h1v2h-1zM358 323h1v2h-1zM358 326h1v2h-1zM358 329h1v1h-1zM373 55h1v2h-1zM373 58h1v2h-1zM373 61h1v2h-1zM373 64h1v2h-1zM373 67h1v1h-1zM373 70h1v1h-1zM373 73h1v1h-1zM373 76h1v1h-1zM373 79h1v1h-1zM373 82h1v1h-1zM373 85h1v1h-1zM373 88h1v1h-1zM373 91h1v1h-1zM373 94h1v1h-1zM373 97h1v1h-1zM373 100h1v1h-1zM373 102h1v2h-1zM373 105h1v2h-1zM373 108h1v2h-1zM373 111h1v2h-1zM373 114h1v2h-1zM373 117h1v2h-1zM373 120h1v1h-1zM373 123h1v1h-1zM373 126h1v1h-1zM373 129h1v1h-1zM373 132h1v1h-1zM373 135h1v1h-1zM373 138h1v1h-1zM373 141h1v1h-1zM373 144h1v1h-1zM373 147h1v1h-1zM373 150h1v1h-1zM373 153h1v1h-1zM373 155h1v2h-1zM373 158h1v2h-1zM373 161h1v2h-1zM373 164h1v2h-1zM373 167h1v2h-1zM373 170h1v2h-1zM373 173h1v2h-1zM373 176h1v1h-1zM373 179h1v1h-1zM373 182h1v1h-1zM373 185h1v1h-1zM373 188h1v1h-1zM373 191h1v1h-1zM373 194h1v1h-1zM373 197h1v1h-1zM373 200h1v1h-1zM373 203h1v1h-1zM373 206h1v1h-1zM373 209h1v1h-1zM373 211h1v2h-1zM373 214h1v2h-1zM373 217h1v5h-1zM373 223h1v2h-1zM373 226h1v2h-1zM373 229h1v1h-1zM373 232h1v1h-1zM373 235h1v1h-1zM373 238h1v1h-1zM373 241h1v1h-1zM373 244h1v1h-1zM373 247h1v1h-1zM373 250h1v1h-1zM373 253h1v1h-1zM373 256h1v1h-1zM373 259h1v1h-1zM373 262h1v1h-1zM373 264h1v2h-1zM373 267h1v2h-1zM373 270h1v2h-1zM373 273h1v5h-1zM373 279h1v2h-1zM373 282h1v2h-1zM373 285h1v1h-1zM373 288h1v1h-1zM373 291h1v1h-1zM373 294h1v1h-1zM373 297h1v1h-1zM373 300h1v1h-1zM373 303h1v1h-1zM373 306h1v1h-1zM373 309h1v1h-1zM373 312h1v1h-1zM373 315h1v1h-1zM373 318h1v1h-1zM373 320h1v2h-1zM373 323h1v2h-1zM373 326h1v2h-1zM373 329h1v1h-1zM387 55h1v2h-1zM387 58h1v2h-1zM387 61h1v2h-1zM387 64h1v2h-1zM387 67h1v1h-1zM387 70h1v1h-1zM387 73h1v1h-1zM387 76h1v1h-1zM387 79h1v1h-1zM387 82h1v1h-1zM387 85h1v1h-1zM387 88h1v1h-1zM387 91h1v1h-1zM387 94h1v1h-1zM387 97h1v1h-1zM387 100h1v1h-1zM387 102h1v2h-1zM387 105h1v2h-1zM387 108h1v2h-1zM387 111h1v2h-1zM387 114h1v2h-1zM387 117h1v2h-1zM387 120h1v1h-1zM387 123h1v1h-1zM387 126h1v1h-1zM387 129h1v1h-1zM387 132h1v1h-1zM387 135h1v1h-1zM387 138h1v1h-1zM387 141h1v1h-1zM387 144h1v1h-1zM387 147h1v1h-1zM387 150h1v1h-1zM387 153h1v1h-1zM387 155h1v2h-1zM387 158h1v2h-1zM387 161h1v2h-1zM387 164h1v2h-1zM387 167h1v2h-1zM387 170h1v2h-1zM387 173h1v2h-1zM387 176h1v1h-1zM387 179h1v1h-1zM387 182h1v1h-1zM387 185h1v1h-1zM387 188h1v1h-1zM387 191h1v1h-1zM387 194h1v1h-1zM387 197h1v1h-1zM387 200h1v1h-1zM387 203h1v1h-1zM387 206h1v1h-1zM387 209h1v1h-1zM387 211h1v2h-1zM387 214h1v2h-1zM387 217h1v5h-1zM387 223h1v2h-1zM387 226h1v2h-1zM387 229h1v1h-1zM387 232h1v1h-1zM387 235h1v1h-1zM387 238h1v1h-1zM387 241h1v1h-1zM387 244h1v1h-1zM387 247h1v1h-1zM387 250h1v1h-1zM387 253h1v1h-1zM387 256h1v1h-1zM387 259h1v1h-1zM387 262h1v1h-1zM387 264h1v2h-1zM387 267h1v2h-1zM387 270h1v2h-1zM387 273h1v5h-1zM387 279h1v2h-1zM387 282h1v2h-1zM387 285h1v1h-1zM387 288h1v1h-1zM387 291h1v1h-1zM387 294h1v1h-1zM387 297h1v1h-1zM387 300h1v1h-1zM387 303h1v1h-1zM387 306h1v1h-1zM387 309h1v1h-1zM387 312h1v1h-1zM387 315h1v1h-1zM387 318h1v1h-1zM387 320h1v2h-1zM387 323h1v2h-1zM387 326h1v2h-1zM387 329h1v1h-1zM401 55h1v2h-1zM401 58h1v2h-1zM401 61h1v2h-1zM401 64h1v2h-1zM401 67h1v1h-1zM401 70h1v1h-1zM401 73h1v1h-1zM401 76h1v1h-1zM401 79h1v1h-1zM401 82h1v1h-1zM401 85h1v1h-1zM401 88h1v1h-1zM401 91h1v1h-1zM401 94h1v1h-1zM401 97h1v1h-1zM401 100h1v1h-1zM401 102h1v2h-1zM401 105h1v2h-1zM401 108h1v2h-1zM401 111h1v2h-1zM401 114h1v2h-1zM401 117h1v2h-1zM401 120h1v1h-1zM401 123h1v1h-1zM401 126h1v1h-1zM401 129h1v1h-1zM401 132h1v1h-1zM401 135h1v1h-1zM401 138h1v1h-1zM401 141h1v1h-1zM401 144h1v1h-1zM401 147h1v1h-1zM401 150h1v1h-1zM401 153h1v1h-1zM401 155h1v2h-1zM401 158h1v2h-1zM401 161h1v2h-1zM401 164h1v2h-1zM401 167h1v2h-1zM401 170h1v2h-1zM401 173h1v2h-1zM401 176h1v1h-1zM401 179h1v1h-1zM401 182h1v1h-1zM401 185h1v1h-1zM401 188h1v1h-1zM401 191h1v1h-1zM401 194h1v1h-1zM401 197h1v1h-1zM401 200h1v1h-1zM401 203h1v1h-1zM401 206h1v1h-1zM401 209h1v1h-1zM401 211h1v2h-1zM401 214h1v2h-1zM401 217h1v2h-1zM401 220h1v2h-1zM401 223h1v2h-1zM401 226h1v2h-1zM401 229h1v1h-1zM401 232h1v1h-1zM401 235h1v1h-1zM401 238h1v1h-1zM401 241h1v1h-1zM401 244h1v1h-1zM401 247h1v1h-1zM401 250h1v1h-1zM401 253h1v1h-1zM401 256h1v1h-1zM401 259h1v1h-1zM401 262h1v1h-1zM401 264h1v2h-1zM401 267h1v2h-1zM401 270h1v2h-1zM401 273h1v2h-1zM401 276h1v2h-1zM401 279h1v2h-1zM401 282h1v2h-1zM401 285h1v1h-1zM401 288h1v1h-1zM401 291h1v1h-1zM401 294h1v1h-1zM401 297h1v1h-1zM401 300h1v1h-1zM401 303h1v1h-1zM401 306h1v1h-1zM401 309h1v1h-1zM401 312h1v1h-1zM401 315h1v1h-1zM401 318h1v1h-1zM401 320h1v2h-1zM401 323h1v2h-1zM401 326h1v2h-1zM401 329h1v1h-1zM416 55h1v2h-1zM416 58h1v2h-1zM416 61h1v2h-1zM416 64h1v2h-1zM416 67h1v1h-1zM416 70h1v1h-1zM416 73h1v1h-1zM416 76h1v1h-1zM416 79h1v1h-1zM416 82h1v1h-1zM416 85h1v1h-1zM416 88h1v1h-1zM416 91h1v1h-1zM416 94h1v1h-1zM416 97h1v1h-1zM416 100h1v1h-1zM416 102h1v2h-1zM416 105h1v2h-1zM416 108h1v2h-1zM416 111h1v2h-1zM416 114h1v2h-1zM416 117h1v2h-1zM416 120h1v1h-1zM416 123h1v1h-1zM416 126h1v1h-1zM416 129h1v1h-1zM416 132h1v1h-1zM416 135h1v1h-1zM416 138h1v1h-1zM416 141h1v1h-1zM416 144h1v1h-1zM416 147h1v1h-1zM416 150h1v1h-1zM416 153h1v1h-1zM416 155h1v2h-1zM416 158h1v2h-1zM416 161h1v2h-1zM416 164h1v2h-1zM416 167h1v2h-1zM416 170h1v2h-1zM416 173h1v2h-1zM416 176h1v1h-1zM416 179h1v1h-1zM416 182h1v1h-1zM416 185h1v1h-1zM416 188h1v1h-1zM416 191h1v1h-1zM416 194h1v1h-1zM416 197h1v1h-1zM416 200h1v1h-1zM416 203h1v1h-1zM416 206h1v1h-1zM416 209h1v1h-1zM416 211h1v2h-1zM416 214h1v2h-1zM416 217h1v2h-1zM416 220h1v2h-1zM416 223h1v2h-1zM416 226h1v2h-1zM416 229h1v1h-1zM416 232h1v1h-1zM416 235h1v1h-1zM416 238h1v1h-1zM416 241h1v1h-1zM416 244h1v1h-1zM416 247h1v1h-1zM416 250h1v1h-1zM416 253h1v1h-1zM416 256h1v1h-1zM416 259h1v1h-1zM416 262h1v1h-1zM416 264h1v2h-1zM416 267h1v2h-1zM416 270h1v2h-1zM416 273h1v2h-1zM416 276h1v2h-1zM416 279h1v2h-1zM416 282h1v2h-1zM416 285h1v1h-1zM416 288h1v1h-1zM416 291h1v1h-1zM416 294h1v1h-1zM416 297h1v1h-1zM416 300h1v1h-1zM416 303h1v1h-1zM416 306h1v1h-1zM416 309h1v1h-1zM416 312h1v1h-1zM416 315h1v1h-1zM416 318h1v1h-1zM416 320h1v2h-1zM416 323h1v2h-1zM416 326h1v2h-1zM416 329h1v1h-1zM430 55h1v2h-1zM430 58h1v2h-1zM430 61h1v2h-1zM430 64h1v2h-1zM430 67h1v1h-1zM430 70h1v1h-1zM430 73h1v1h-1zM430 76h1v1h-1zM430 79h1v1h-1zM430 82h1v1h-1zM430 85h1v1h-1zM430 88h1v1h-1zM430 91h1v1h-1zM430 94h1v1h-1zM430 97h1v1h-1zM430 100h1v1h-1zM430 102h1v2h-1zM430 105h1v2h-1zM430 108h1v2h-1zM430 111h1v2h-1zM430 114h1v2h-1zM430 117h1v2h-1zM430 120h1v1h-1zM430 123h1v1h-1zM430 126h1v1h-1zM430 129h1v1h-1zM430 132h1v1h-1zM430 135h1v1h-1zM430 138h1v1h-1zM430 141h1v1h-1zM430 144h1v1h-1zM430 147h1v1h-1zM430 150h1v1h-1zM430 153h1v1h-1zM430 155h1v2h-1zM430 158h1v2h-1zM430 161h1v2h-1zM430 164h1v2h-1zM430 167h1v2h-1zM430 170h1v2h-1zM430 173h1v2h-1zM430 176h1v1h-1zM430 179h1v1h-1zM430 182h1v1h-1zM430 185h1v1h-1zM430 188h1v1h-1zM430 191h1v1h-1zM430 194h1v1h-1zM430 197h1v1h-1zM430 200h1v1h-1zM430 203h1v1h-1zM430 206h1v1h-1zM430 209h1v1h-1zM430 211h1v2h-1zM430 214h1v2h-1zM430 217h1v2h-1zM430 220h1v2h-1zM430 223h1v2h-1zM430 226h1v2h-1zM430 229h1v1h-1zM430 232h1v1h-1zM430 235h1v1h-1zM430 238h1v1h-1zM430 241h1v1h-1zM430 244h1v1h-1zM430 247h1v1h-1zM430 250h1v1h-1zM430 253h1v1h-1zM430 256h1v1h-1zM430 259h1v1h-1zM430 262h1v1h-1zM430 264h1v2h-1zM430 267h1v2h-1zM430 270h1v2h-1zM430 273h1v2h-1zM430 276h1v2h-1zM430 279h1v2h-1zM430 282h1v2h-1zM430 285h1v1h-1zM430 288h1v1h-1zM430 291h1v1h-1zM430 294h1v1h-1zM430 297h1v1h-1zM430 300h1v1h-1zM430 303h1v1h-1zM430 306h1v1h-1zM430 309h1v1h-1zM430 312h1v1h-1zM430 315h1v1h-1zM430 318h1v1h-1zM430 320h1v2h-1zM430 323h1v2h-1zM430 326h1v2h-1zM430 329h1v1h-1zM444 55h1v2h-1zM444 58h1v2h-1zM444 61h1v2h-1zM444 64h1v2h-1zM444 67h1v1h-1zM444 70h1v1h-1zM444 73h1v1h-1zM444 76h1v1h-1zM444 79h1v1h-1zM444 82h1v1h-1zM444 85h1v1h-1zM444 88h1v1h-1zM444 91h1v1h-1zM444 94h1v1h-1zM444 97h1v1h-1zM444 100h1v1h-1zM444 102h1v2h-1zM444 105h1v2h-1zM444 108h1v2h-1zM444 111h1v2h-1zM444 114h1v2h-1zM444 117h1v2h-1zM444 120h1v1h-1zM444 123h1v1h-1zM444 126h1v1h-1zM444 129h1v1h-1zM444 132h1v1h-1zM444 135h1v1h-1zM444 138h1v1h-1zM444 141h1v1h-1zM444 144h1v1h-1zM444 147h1v1h-1zM444 150h1v1h-1zM444 153h1v1h-1zM444 155h1v2h-1zM444 158h1v2h-1zM444 161h1v2h-1zM444 164h1v2h-1zM444 167h1v2h-1zM444 170h1v2h-1zM444 173h1v2h-1zM444 176h1v1h-1zM444 179h1v1h-1zM444 182h1v1h-1zM444 185h1v1h-1zM444 188h1v1h-1zM444 191h1v1h-1zM444 194h1v1h-1zM444 197h1v1h-1zM444 200h1v1h-1zM444 203h1v1h-1zM444 206h1v1h-1zM444 209h1v1h-1zM444 211h1v2h-1zM444 214h1v2h-1zM444 217h1v5h-1zM444 223h1v2h-1zM444 226h1v2h-1zM444 229h1v1h-1zM444 232h1v1h-1zM444 235h1v1h-1zM444 238h1v1h-1zM444 241h1v1h-1zM444 244h1v1h-1zM444 247h1v1h-1zM444 250h1v1h-1zM444 253h1v1h-1zM444 256h1v1h-1zM444 259h1v1h-1zM444 262h1v1h-1zM444 264h1v2h-1zM444 267h1v2h-1zM444 270h1v2h-1zM444 273h1v5h-1zM444 279h1v2h-1zM444 282h1v2h-1zM444 285h1v1h-1zM444 288h1v1h-1zM444 291h1v1h-1zM444 294h1v1h-1zM444 297h1v1h-1zM444 300h1v1h-1zM444 303h1v1h-1zM444 306h1v1h-1zM444 309h1v1h-1zM444 312h1v1h-1zM444 315h1v1h-1zM444 318h1v1h-1zM444 320h1v2h-1zM444 323h1v2h-1zM444 326h1v2h-1zM444 329h1v1h-1zM459 55h1v2h-1zM459 58h1v2h-1zM459 61h1v2h-1zM459 64h1v2h-1zM459 67h1v1h-1zM459 70h1v1h-1zM459 73h1v1h-1zM459 76h1v1h-1zM459 79h1v1h-1zM459 82h1v1h-1zM459 85h1v1h-1zM459 88h1v1h-1zM459 91h1v1h-1zM459 94h1v1h-1zM459 97h1v1h-1zM459 100h1v1h-1zM459 102h1v2h-1zM459 105h1v2h-1zM459 108h1v2h-1zM459 111h1v2h-1zM459 114h1v2h-1zM459 117h1v2h-1zM459 120h1v1h-1zM459 123h1v1h-1zM459 126h1v1h-1zM459 129h1v1h-1zM459 132h1v1h-1zM459 135h1v1h-1zM459 138h1v1h-1zM459 141h1v1h-1zM459 144h1v1h-1zM459 147h1v1h-1zM459 150h1v1h-1zM459 153h1v1h-1zM459 155h1v2h-1zM459 158h1v2h-1zM459 161h1v2h-1zM459 164h1v2h-1zM459 167h1v2h-1zM459 170h1v2h-1zM459 173h1v2h-1zM459 176h1v1h-1zM459 179h1v1h-1zM459 182h1v1h-1zM459 185h1v1h-1zM459 188h1v1h-1zM459 191h1v1h-1zM459 194h1v1h-1zM459 197h1v1h-1zM459 200h1v1h-1zM459 203h1v1h-1zM459 206h1v1h-1zM459 209h1v1h-1zM459 211h1v2h-1zM459 214h1v2h-1zM459 217h1v5h-1zM459 223h1v2h-1zM459 226h1v2h-1zM459 229h1v1h-1zM459 232h1v1h-1zM459 235h1v1h-1zM459 238h1v1h-1zM459 241h1v1h-1zM459 244h1v1h-1zM459 247h1v1h-1zM459 250h1v1h-1zM459 253h1v1h-1zM459 256h1v1h-1zM459 259h1v1h-1zM459 262h1v1h-1zM459 264h1v2h-1zM459 267h1v2h-1zM459 270h1v2h-1zM459 273h1v5h-1zM459 279h1v2h-1zM459 282h1v2h-1zM459 285h1v1h-1zM459 288h1v1h-1zM459 291h1v1h-1zM459 294h1v1h-1zM459 297h1v1h-1zM459 300h1v1h-1zM459 303h1v1h-1zM459 306h1v1h-1zM459 309h1v1h-1zM459 312h1v1h-1zM459 315h1v1h-1zM459 318h1v1h-1zM459 320h1v2h-1zM459 323h1v2h-1zM459 326h1v2h-1zM459 329h1v1h-1zM473 55h1v2h-1zM473 58h1v2h-1zM473 61h1v2h-1zM473 64h1v2h-1zM473 67h1v1h-1zM473 70h1v1h-1zM473 73h1v1h-1zM473 76h1v1h-1zM473 79h1v1h-1zM473 82h1v1h-1zM473 85h1v1h-1zM473 88h1v1h-1zM473 91h1v1h-1zM473 94h1v1h-1zM473 97h1v1h-1zM473 100h1v1h-1zM473 102h1v2h-1zM473 105h1v2h-1zM473 108h1v2h-1zM473 111h1v2h-1zM473 114h1v2h-1zM473 117h1v2h-1zM473 120h1v1h-1zM473 123h1v1h-1zM473 126h1v1h-1zM473 129h1v1h-1zM473 132h1v1h-1zM473 135h1v1h-1zM473 138h1v1h-1zM473 141h1v1h-1zM473 144h1v1h-1zM473 147h1v1h-1zM473 150h1v1h-1zM473 153h1v1h-1zM473 155h1v2h-1zM473 158h1v2h-1zM473 161h1v2h-1zM473 164h1v2h-1zM473 167h1v2h-1zM473 170h1v2h-1zM473 173h1v2h-1zM473 176h1v1h-1zM473 179h1v1h-1zM473 182h1v1h-1zM473 185h1v1h-1zM473 188h1v1h-1zM473 191h1v1h-1zM473 194h1v1h-1zM473 197h1v1h-1zM473 200h1v1h-1zM473 203h1v1h-1zM473 206h1v1h-1zM473 209h1v1h-1zM473 211h1v2h-1zM473 214h1v2h-1zM473 217h1v5h-1zM473 223h1v2h-1zM473 226h1v2h-1zM473 229h1v1h-1zM473 232h1v1h-1zM473 235h1v1h-1zM473 238h1v1h-1zM473 241h1v1h-1zM473 244h1v1h-1zM473 247h1v1h-1zM473 250h1v1h-1zM473 253h1v1h-1zM473 256h1v1h-1zM473 259h1v1h-1zM473 262h1v1h-1zM473 264h1v2h-1zM473 267h1v2h-1zM473 270h1v2h-1zM473 273h1v5h-1zM473 279h1v2h-1zM473 282h1v2h-1zM473 285h1v1h-1zM473 288h1v1h-1zM473 291h1v1h-1zM473 294h1v1h-1zM473 297h1v1h-1zM473 300h1v1h-1zM473 303h1v1h-1zM473 306h1v1h-1zM473 309h1v1h-1zM473 312h1v1h-1zM473 315h1v1h-1zM473 318h1v1h-1zM473 320h1v2h-1zM473 323h1v2h-1zM473 326h1v2h-1zM473 329h1v1h-1zM487 55h1v2h-1zM487 58h1v2h-1zM487 61h1v2h-1zM487 64h1v2h-1zM487 67h1v1h-1zM487 70h1v1h-1zM487 73h1v1h-1zM487 76h1v1h-1zM487 79h1v1h-1zM487 82h1v1h-1zM487 85h1v1h-1zM487 88h1v1h-1zM487 91h1v1h-1zM487 94h1v1h-1zM487 97h1v1h-1zM487 100h1v1h-1zM487 102h1v2h-1zM487 105h1v2h-1zM487 108h1v2h-1zM487 111h1v2h-1zM487 114h1v2h-1zM487 117h1v2h-1zM487 120h1v1h-1zM487 123h1v1h-1zM487 126h1v1h-1zM487 129h1v1h-1zM487 132h1v1h-1zM487 135h1v1h-1zM487 138h1v1h-1zM487 141h1v1h-1zM487 144h1v1h-1zM487 147h1v1h-1zM487 150h1v1h-1zM487 153h1v1h-1zM487 155h1v2h-1zM487 158h1v2h-1zM487 161h1v2h-1zM487 164h1v2h-1zM487 167h1v2h-1zM487 170h1v2h-1zM487 173h1v2h-1zM487 176h1v1h-1zM487 179h1v1h-1zM487 182h1v1h-1zM487 185h1v1h-1zM487 188h1v1h-1zM487 191h1v1h-1zM487 194h1v1h-1zM487 197h1v1h-1zM487 200h1v1h-1zM487 203h1v1h-1zM487 206h1v1h-1zM487 209h1v1h-1zM487 211h1v2h-1zM487 214h1v2h-1zM487 217h1v2h-1zM487 220h1v2h-1zM487 223h1v2h-1zM487 226h1v2h-1zM487 229h1v1h-1zM487 232h1v1h-1zM487 235h1v1h-1zM487 238h1v1h-1zM487 241h1v1h-1zM487 244h1v1h-1zM487 247h1v1h-1zM487 250h1v1h-1zM487 253h1v1h-1zM487 256h1v1h-1zM487 259h1v1h-1zM487 262h1v1h-1zM487 264h1v2h-1zM487 267h1v2h-1zM487 270h1v2h-1zM487 273h1v2h-1zM487 276h1v2h-1zM487 279h1v2h-1zM487 282h1v2h-1zM487 285h1v1h-1zM487 288h1v1h-1zM487 291h1v1h-1zM487 294h1v1h-1zM487 297h1v1h-1zM487 300h1v1h-1zM487 303h1v1h-1zM487 306h1v1h-1zM487 309h1v1h-1zM487 312h1v1h-1zM487 315h1v1h-1zM487 318h1v1h-1zM487 320h1v2h-1zM487 323h1v2h-1zM487 326h1v2h-1zM487 329h1v1h-1zM502 55h1v2h-1zM502 58h1v2h-1zM502 61h1v2h-1zM502 64h1v2h-1zM502 67h1v1h-1zM502 70h1v1h-1zM502 73h1v1h-1zM502 76h1v1h-1zM502 79h1v1h-1zM502 82h1v1h-1zM502 85h1v1h-1zM502 88h1v1h-1zM502 91h1v1h-1zM502 94h1v1h-1zM502 97h1v1h-1zM502 100h1v1h-1zM502 102h1v2h-1zM502 105h1v2h-1zM502 108h1v2h-1zM502 111h1v2h-1zM502 114h1v2h-1zM502 117h1v2h-1zM502 120h1v1h-1zM502 123h1v1h-1zM502 126h1v1h-1zM502 129h1v1h-1zM502 132h1v1h-1zM502 135h1v1h-1zM502 138h1v1h-1zM502 141h1v1h-1zM502 144h1v1h-1zM502 147h1v1h-1zM502 150h1v1h-1zM502 153h1v1h-1zM502 155h1v2h-1zM502 158h1v2h-1zM502 161h1v2h-1zM502 164h1v2h-1zM502 167h1v2h-1zM502 170h1v2h-1zM502 173h1v2h-1zM502 176h1v1h-1zM502 179h1v1h-1zM502 182h1v1h-1zM502 185h1v1h-1zM502 188h1v1h-1zM502 191h1v1h-1zM502 194h1v1h-1zM502 197h1v1h-1zM502 200h1v1h-1zM502 203h1v1h-1zM502 206h1v1h-1zM502 209h1v1h-1zM502 211h1v2h-1zM502 214h1v2h-1zM502 217h1v5h-1zM502 223h1v2h-1zM502 226h1v2h-1zM502 229h1v1h-1zM502 232h1v1h-1zM502 235h1v1h-1zM502 238h1v1h-1zM502 241h1v1h-1zM502 244h1v1h-1zM502 247h1v1h-1zM502 250h1v1h-1zM502 253h1v1h-1zM502 256h1v1h-1zM502 259h1v1h-1zM502 262h1v1h-1zM502 264h1v2h-1zM502 267h1v2h-1zM502 270h1v2h-1zM502 273h1v5h-1zM502 279h1v2h-1zM502 282h1v2h-1zM502 285h1v1h-1zM502 288h1v1h-1zM502 291h1v1h-1zM502 294h1v1h-1zM502 297h1v1h-1zM502 300h1v1h-1zM502 303h1v1h-1zM502 306h1v1h-1zM502 309h1v1h-1zM502 312h1v1h-1zM502 315h1v1h-1zM502 318h1v1h-1zM502 320h1v2h-1zM502 323h1v2h-1zM502 326h1v2h-1zM502 329h1v1h-1zM516 55h1v2h-1zM516 58h1v2h-1zM516 61h1v2h-1zM516 64h1v2h-1zM516 67h1v1h-1zM516 70h1v1h-1zM516 73h1v1h-1zM516 76h1v1h-1zM516 79h1v1h-1zM516 82h1v1h-1zM516 85h1v1h-1zM516 88h1v1h-1zM516 91h1v1h-1zM516 94h1v1h-1zM516 97h1v1h-1zM516 100h1v1h-1zM516 102h1v2h-1zM516 105h1v2h-1zM516 108h1v2h-1zM516 111h1v2h-1zM516 114h1v2h-1zM516 117h1v2h-1zM516 120h1v1h-1zM516 123h1v1h-1zM516 126h1v1h-1zM516 129h1v1h-1zM516 132h1v1h-1zM516 135h1v1h-1zM516 138h1v1h-1zM516 141h1v1h-1zM516 144h1v1h-1zM516 147h1v1h-1zM516 150h1v1h-1zM516 153h1v1h-1zM516 155h1v2h-1zM516 158h1v2h-1zM516 161h1v2h-1zM516 164h1v2h-1zM516 167h1v2h-1zM516 170h1v2h-1zM516 173h1v2h-1zM516 176h1v1h-1zM516 179h1v1h-1zM516 182h1v1h-1zM516 185h1v1h-1zM516 188h1v1h-1zM516 191h1v1h-1zM516 194h1v1h-1zM516 197h1v1h-1zM516 200h1v1h-1zM516 203h1v1h-1zM516 206h1v1h-1zM516 209h1v1h-1zM516 211h1v2h-1zM516 214h1v2h-1zM516 217h1v2h-1zM516 220h1v2h-1zM516 223h1v2h-1zM516 226h1v2h-1zM516 229h1v1h-1zM516 232h1v1h-1zM516 235h1v1h-1zM516 238h1v1h-1zM516 241h1v1h-1zM516 244h1v1h-1zM516 247h1v1h-1zM516 250h1v1h-1zM516 253h1v1h-1zM516 256h1v1h-1zM516 259h1v1h-1zM516 262h1v1h-1zM516 264h1v2h-1zM516 267h1v2h-1zM516 270h1v2h-1zM516 273h1v2h-1zM516 276h1v2h-1zM516 279h1v2h-1zM516 282h1v2h-1zM516 285h1v1h-1zM516 288h1v1h-1zM516 291h1v1h-1zM516 294h1v1h-1zM516 297h1v1h-1zM516 300h1v1h-1zM516 303h1v1h-1zM516 306h1v1h-1zM516 309h1v1h-1zM516 312h1v1h-1zM516 315h1v1h-1zM516 318h1v1h-1zM516 320h1v2h-1zM516 323h1v2h-1zM516 326h1v2h-1zM516 329h1v1h-1zM530 55h1v2h-1zM530 58h1v2h-1zM530 61h1v2h-1zM530 64h1v2h-1zM530 67h1v1h-1zM530 70h1v1h-1zM530 73h1v1h-1zM530 76h1v1h-1zM530 79h1v1h-1zM530 82h1v1h-1zM530 85h1v1h-1zM530 88h1v1h-1zM530 91h1v1h-1zM530 94h1v1h-1zM530 97h1v1h-1zM530 100h1v1h-1zM530 102h1v2h-1zM530 105h1v2h-1zM530 108h1v2h-1zM530 111h1v2h-1zM530 114h1v2h-1zM530 117h1v2h-1zM530 120h1v1h-1zM530 123h1v1h-1zM530 126h1v1h-1zM530 129h1v1h-1zM530 132h1v1h-1zM530 135h1v1h-1zM530 138h1v1h-1zM530 141h1v1h-1zM530 144h1v1h-1zM530 147h1v1h-1zM530 150h1v1h-1zM530 153h1v1h-1zM530 155h1v2h-1zM530 158h1v2h-1zM530 161h1v2h-1zM530 164h1v2h-1zM530 167h1v2h-1zM530 170h1v2h-1zM530 173h1v2h-1zM530 176h1v1h-1zM530 179h1v1h-1zM530 182h1v1h-1zM530 185h1v1h-1zM530 188h1v1h-1zM530 191h1v1h-1zM530 194h1v1h-1zM530 197h1v1h-1zM530 200h1v1h-1zM530 203h1v1h-1zM530 206h1v1h-1zM530 209h1v1h-1zM530 211h1v2h-1zM530 214h1v2h-1zM530 217h1v2h-1zM530 220h1v2h-1zM530 223h1v2h-1zM530 226h1v2h-1zM530 229h1v1h-1zM530 232h1v1h-1zM530 235h1v1h-1zM530 238h1v1h-1zM530 241h1v1h-1zM530 244h1v1h-1zM530 247h1v1h-1zM530 250h1v1h-1zM530 253h1v1h-1zM530 256h1v1h-1zM530 259h1v1h-1zM530 262h1v1h-1zM530 264h1v2h-1zM530 267h1v2h-1zM530 270h1v2h-1zM530 273h1v2h-1zM530 276h1v2h-1zM530 279h1v2h-1zM530 282h1v2h-1zM530 285h1v1h-1zM530 288h1v1h-1zM530 291h1v1h-1zM530 294h1v1h-1zM530 297h1v1h-1zM530 300h1v1h-1zM530 303h1v1h-1zM530 306h1v1h-1zM530 309h1v1h-1zM530 312h1v1h-1zM530 315h1v1h-1zM530 318h1v1h-1zM530 320h1v2h-1zM530 323h1v2h-1zM530 326h1v2h-1zM530 329h1v1h-1zM545 55h1v2h-1zM545 58h1v2h-1zM545 61h1v2h-1zM545 64h1v2h-1zM545 67h1v1h-1zM545 70h1v1h-1zM545 73h1v1h-1zM545 76h1v1h-1zM545 79h1v1h-1zM545 82h1v1h-1zM545 85h1v1h-1zM545 88h1v1h-1zM545 91h1v1h-1zM545 94h1v1h-1zM545 97h1v1h-1zM545 100h1v1h-1zM545 102h1v2h-1zM545 105h1v2h-1zM545 108h1v2h-1zM545 111h1v2h-1zM545 114h1v2h-1zM545 117h1v2h-1zM545 120h1v1h-1zM545 123h1v1h-1zM545 126h1v1h-1zM545 129h1v1h-1zM545 132h1v1h-1zM545 135h1v1h-1zM545 138h1v1h-1zM545 141h1v1h-1zM545 144h1v1h-1zM545 147h1v1h-1zM545 150h1v1h-1zM545 153h1v1h-1zM545 155h1v2h-1zM545 158h1v2h-1zM545 161h1v2h-1zM545 164h1v2h-1zM545 167h1v2h-1zM545 170h1v2h-1zM545 173h1v2h-1zM545 176h1v1h-1zM545 179h1v1h-1zM545 182h1v1h-1zM545 185h1v1h-1zM545 188h1v1h-1zM545 191h1v1h-1zM545 194h1v1h-1zM545 197h1v1h-1zM545 200h1v1h-1zM545 203h1v1h-1zM545 206h1v1h-1zM545 209h1v1h-1zM545 211h1v2h-1zM545 214h1v2h-1zM545 217h1v2h-1zM545 220h1v2h-1zM545 223h1v2h-1zM545 226h1v2h-1zM545 229h1v1h-1zM545 232h1v1h-1zM545 235h1v1h-1zM545 238h1v1h-1zM545 241h1v1h-1zM545 244h1v1h-1zM545 247h1v1h-1zM545 250h1v1h-1zM545 253h1v1h-1zM545 256h1v1h-1zM545 259h1v1h-1zM545 262h1v1h-1zM545 264h1v2h-1zM545 267h1v2h-1zM545 270h1v2h-1zM545 273h1v2h-1zM545 276h1v2h-1zM545 279h1v2h-1zM545 282h1v2h-1zM545 285h1v1h-1zM545 288h1v1h-1zM545 291h1v1h-1zM545 294h1v1h-1zM545 297h1v1h-1zM545 300h1v1h-1zM545 303h1v1h-1zM545 306h1v1h-1zM545 309h1v1h-1zM545 312h1v1h-1zM545 315h1v1h-1zM545 318h1v1h-1zM545 320h1v2h-1zM545 323h1v2h-1zM545 326h1v2h-1zM545 329h1v1h-1zM559 55h1v2h-1zM559 58h1v2h-1zM559 61h1v2h-1zM559 64h1v2h-1zM559 67h1v1h-1zM559 70h1v1h-1zM559 73h1v1h-1zM559 76h1v1h-1zM559 79h1v1h-1zM559 82h1v1h-1zM559 85h1v1h-1zM559 88h1v1h-1zM559 91h1v1h-1zM559 94h1v1h-1zM559 97h1v1h-1zM559 100h1v1h-1zM559 102h1v2h-1zM559 105h1v2h-1zM559 108h1v2h-1zM559 111h1v2h-1zM559 114h1v2h-1zM559 117h1v2h-1zM559 120h1v1h-1zM559 123h1v1h-1zM559 126h1v1h-1zM559 129h1v1h-1zM559 132h1v1h-1zM559 135h1v1h-1zM559 138h1v1h-1zM559 141h1v1h-1zM559 144h1v1h-1zM559 147h1v1h-1zM559 150h1v1h-1zM559 153h1v1h-1zM559 155h1v2h-1zM559 158h1v2h-1zM559 161h1v2h-1zM559 164h1v2h-1zM559 167h1v2h-1zM559 170h1v2h-1zM559 173h1v2h-1zM559 176h1v1h-1zM559 179h1v1h-1zM559 182h1v1h-1zM559 185h1v1h-1zM559 188h1v1h-1zM559 191h1v1h-1zM559 194h1v1h-1zM559 197h1v1h-1zM559 200h1v1h-1zM559 203h1v1h-1zM559 206h1v1h-1zM559 209h1v1h-1zM559 211h1v2h-1zM559 214h1v2h-1zM559 217h1v5h-1zM559 223h1v2h-1zM559 226h1v2h-1zM559 229h1v1h-1zM559 232h1v1h-1zM559 235h1v1h-1zM559 238h1v1h-1zM559 241h1v1h-1zM559 244h1v1h-1zM559 247h1v1h-1zM559 250h1v1h-1zM559 253h1v1h-1zM559 256h1v1h-1zM559 259h1v1h-1zM559 262h1v1h-1zM559 264h1v2h-1zM559 267h1v2h-1zM559 270h1v2h-1zM559 273h1v5h-1zM559 279h1v2h-1zM559 282h1v2h-1zM559 285h1v1h-1zM559 288h1v1h-1zM559 291h1v1h-1zM559 294h1v1h-1zM559 297h1v1h-1zM559 300h1v1h-1zM559 303h1v1h-1zM559 306h1v1h-1zM559 309h1v1h-1zM559 312h1v1h-1zM559 315h1v1h-1zM559 318h1v1h-1zM559 320h1v2h-1zM559 323h1v2h-1zM559 326h1v2h-1zM559 329h1v1h-1zM573 55h1v2h-1zM573 58h1v2h-1zM573 61h1v2h-1zM573 64h1v2h-1zM573 67h1v1h-1zM573 70h1v1h-1zM573 73h1v1h-1zM573 76h1v1h-1zM573 79h1v1h-1zM573 82h1v1h-1zM573 85h1v1h-1zM573 88h1v1h-1zM573 91h1v1h-1zM573 94h1v1h-1zM573 97h1v1h-1zM573 100h1v1h-1zM573 102h1v2h-1zM573 105h1v2h-1zM573 108h1v2h-1zM573 111h1v2h-1zM573 114h1v2h-1zM573 117h1v2h-1zM573 120h1v1h-1zM573 123h1v1h-1zM573 126h1v1h-1zM573 129h1v1h-1zM573 132h1v1h-1zM573 135h1v1h-1zM573 138h1v1h-1zM573 141h1v1h-1zM573 144h1v1h-1zM573 147h1v1h-1zM573 150h1v1h-1zM573 153h1v1h-1zM573 155h1v2h-1zM573 158h1v2h-1zM573 161h1v2h-1zM573 164h1v2h-1zM573 167h1v2h-1zM573 170h1v2h-1zM573 173h1v2h-1zM573 176h1v1h-1zM573 179h1v1h-1zM573 182h1v1h-1zM573 185h1v1h-1zM573 188h1v1h-1zM573 191h1v1h-1zM573 194h1v1h-1zM573 197h1v1h-1zM573 200h1v1h-1zM573 203h1v1h-1zM573 206h1v1h-1zM573 209h1v1h-1zM573 211h1v2h-1zM573 214h1v2h-1zM573 217h1v5h-1zM573 223h1v2h-1zM573 226h1v2h-1zM573 229h1v1h-1zM573 232h1v1h-1zM573 235h1v1h-1zM573 238h1v1h-1zM573 241h1v1h-1zM573 244h1v1h-1zM573 247h1v1h-1zM573 250h1v1h-1zM573 253h1v1h-1zM573 256h1v1h-1zM573 259h1v1h-1zM573 262h1v1h-1zM573 264h1v2h-1zM573 267h1v2h-1zM573 270h1v2h-1zM573 273h1v5h-1zM573 279h1v2h-1zM573 282h1v2h-1zM573 285h1v1h-1zM573 288h1v1h-1zM573 291h1v1h-1zM573 294h1v1h-1zM573 297h1v1h-1zM573 300h1v1h-1zM573 303h1v1h-1zM573 306h1v1h-1zM573 309h1v1h-1zM573 312h1v1h-1zM573 315h1v1h-1zM573 318h1v1h-1zM573 320h1v2h-1zM573 323h1v2h-1zM573 326h1v2h-1zM573 329h1v1h-1zM587 55h1v2h-1zM587 58h1v2h-1zM587 61h1v2h-1zM587 64h1v2h-1zM587 67h1v1h-1zM587 70h1v1h-1zM587 73h1v1h-1zM587 76h1v1h-1zM587 79h1v1h-1zM587 82h1v1h-1zM587 85h1v1h-1zM587 88h1v1h-1zM587 91h1v1h-1zM587 94h1v1h-1zM587 97h1v1h-1zM587 100h1v1h-1zM587 102h1v2h-1zM587 105h1v2h-1zM587 108h1v2h-1zM587 111h1v2h-1zM587 114h1v2h-1zM587 117h1v2h-1zM587 120h1v1h-1zM587 123h1v1h-1zM587 126h1v1h-1zM587 129h1v1h-1zM587 132h1v1h-1zM587 135h1v1h-1zM587 138h1v1h-1zM587 141h1v1h-1zM587 144h1v1h-1zM587 147h1v1h-1zM587 150h1v1h-1zM587 153h1v1h-1zM587 155h1v2h-1zM587 158h1v2h-1zM587 161h1v2h-1zM587 164h1v2h-1zM587 167h1v2h-1zM587 170h1v2h-1zM587 173h1v2h-1zM587 176h1v1h-1zM587 179h1v1h-1zM587 182h1v1h-1zM587 185h1v1h-1zM587 188h1v1h-1zM587 191h1v1h-1zM587 194h1v1h-1zM587 197h1v1h-1zM587 200h1v1h-1zM587 203h1v1h-1zM587 206h1v1h-1zM587 209h1v1h-1zM587 211h1v2h-1zM587 214h1v2h-1zM587 217h1v2h-1zM587 220h1v2h-1zM587 223h1v2h-1zM587 226h1v2h-1zM587 229h1v1h-1zM587 232h1v1h-1zM587 235h1v1h-1zM587 238h1v1h-1zM587 241h1v1h-1zM587 244h1v1h-1zM587 247h1v1h-1zM587 250h1v1h-1zM587 253h1v1h-1zM587 256h1v1h-1zM587 259h1v1h-1zM587 262h1v1h-1zM587 264h1v2h-1zM587 267h1v2h-1zM587 270h1v2h-1zM587 273h1v2h-1zM587 276h1v2h-1zM587 279h1v2h-1zM587 282h1v2h-1zM587 285h1v1h-1zM587 288h1v1h-1zM587 291h1v1h-1zM587 294h1v1h-1zM587 297h1v1h-1zM587 300h1v1h-1zM587 303h1v1h-1zM587 306h1v1h-1zM587 309h1v1h-1zM587 312h1v1h-1zM587 315h1v1h-1zM587 318h1v1h-1zM587 320h1v2h-1zM587 323h1v2h-1zM587 326h1v2h-1zM587 329h1v1h-1zM602 55h1v2h-1zM602 58h1v2h-1zM602 61h1v2h-1zM602 64h1v2h-1zM602 67h1v1h-1zM602 70h1v1h-1zM602 73h1v1h-1zM602 76h1v1h-1zM602 79h1v1h-1zM602 82h1v1h-1zM602 85h1v1h-1zM602 88h1v1h-1zM602 91h1v1h-1zM602 94h1v1h-1zM602 97h1v1h-1zM602 100h1v1h-1zM602 102h1v2h-1zM602 105h1v2h-1zM602 108h1v2h-1zM602 111h1v2h-1zM602 114h1v2h-1zM602 117h1v2h-1zM602 120h1v1h-1zM602 123h1v1h-1zM602 126h1v1h-1zM602 129h1v1h-1zM602 132h1v1h-1zM602 135h1v1h-1zM602 138h1v1h-1zM602 141h1v1h-1zM602 144h1v1h-1zM602 147h1v1h-1zM602 150h1v1h-1zM602 153h1v1h-1zM602 155h1v2h-1zM602 158h1v2h-1zM602 161h1v2h-1zM602 164h1v2h-1zM602 167h1v2h-1zM602 170h1v2h-1zM602 173h1v2h-1zM602 176h1v1h-1zM602 179h1v1h-1zM602 182h1v1h-1zM602 185h1v1h-1zM602 188h1v1h-1zM602 191h1v1h-1zM602 194h1v1h-1zM602 197h1v1h-1zM602 200h1v1h-1zM602 203h1v1h-1zM602 206h1v1h-1zM602 209h1v1h-1zM602 211h1v2h-1zM602 214h1v2h-1zM602 217h1v2h-1zM602 220h1v2h-1zM602 223h1v2h-1zM602 226h1v2h-1zM602 229h1v1h-1zM602 232h1v1h-1zM602 235h1v1h-1zM602 238h1v1h-1zM602 241h1v1h-1zM602 244h1v1h-1zM602 247h1v1h-1zM602 250h1v1h-1zM602 253h1v1h-1zM602 256h1v1h-1zM602 259h1v1h-1zM602 262h1v1h-1zM602 264h1v2h-1zM602 267h1v2h-1zM602 270h1v2h-1zM602 273h1v2h-1zM602 276h1v2h-1zM602 279h1v2h-1zM602 282h1v2h-1zM602 285h1v1h-1zM602 288h1v1h-1zM602 291h1v1h-1zM602 294h1v1h-1zM602 297h1v1h-1zM602 300h1v1h-1zM602 303h1v1h-1zM602 306h1v1h-1zM602 309h1v1h-1zM602 312h1v1h-1zM602 315h1v1h-1zM602 318h1v1h-1zM602 320h1v2h-1zM602 323h1v2h-1zM602 326h1v2h-1zM602 329h1v1h-1zM616 55h1v2h-1zM616 58h1v2h-1zM616 61h1v2h-1zM616 64h1v2h-1zM616 67h1v1h-1zM616 70h1v1h-1zM616 73h1v1h-1zM616 76h1v1h-1zM616 79h1v1h-1zM616 82h1v1h-1zM616 85h1v1h-1zM616 88h1v1h-1zM616 91h1v1h-1zM616 94h1v1h-1zM616 97h1v1h-1zM616 100h1v1h-1zM616 102h1v2h-1zM616 105h1v2h-1zM616 108h1v2h-1zM616 111h1v2h-1zM616 114h1v2h-1zM616 117h1v2h-1zM616 120h1v1h-1zM616 123h1v1h-1zM616 126h1v1h-1zM616 129h1v1h-1zM616 132h1v1h-1zM616 135h1v1h-1zM616 138h1v1h-1zM616 141h1v1h-1zM616 144h1v1h-1zM616 147h1v1h-1zM616 150h1v1h-1zM616 153h1v1h-1zM616 155h1v2h-1zM616 158h1v2h-1zM616 161h1v2h-1zM616 164h1v2h-1zM616 167h1v2h-1zM616 170h1v2h-1zM616 173h1v2h-1zM616 176h1v1h-1zM616 179h1v1h-1zM616 182h1v1h-1zM616 185h1v1h-1zM616 188h1v1h-1zM616 191h1v1h-1zM616 194h1v1h-1zM616 197h1v1h-1zM616 200h1v1h-1zM616 203h1v1h-1zM616 206h1v1h-1zM616 209h1v1h-1zM616 211h1v2h-1zM616 214h1v2h-1zM616 217h1v2h-1zM616 220h1v2h-1zM616 223h1v2h-1zM616 226h1v2h-1zM616 229h1v1h-1zM616 232h1v1h-1zM616 235h1v1h-1zM616 238h1v1h-1zM616 241h1v1h-1zM616 244h1v1h-1zM616 247h1v1h-1zM616 250h1v1h-1zM616 253h1v1h-1zM616 256h1v1h-1zM616 259h1v1h-1zM616 262h1v1h-1zM616 264h1v2h-1zM616 267h1v2h-1zM616 270h1v2h-1zM616 273h1v2h-1zM616 276h1v2h-1zM616 279h1v2h-1zM616 282h1v2h-1zM616 285h1v1h-1zM616 288h1v1h-1zM616 291h1v1h-1zM616 294h1v1h-1zM616 297h1v1h-1zM616 300h1v1h-1zM616 303h1v1h-1zM616 306h1v1h-1zM616 309h1v1h-1zM616 312h1v1h-1zM616 315h1v1h-1zM616 318h1v1h-1zM616 320h1v2h-1zM616 323h1v2h-1zM616 326h1v2h-1zM616 329h1v1h-1zM630 55h1v2h-1zM630 58h1v2h-1zM630 61h1v2h-1zM630 64h1v2h-1zM630 67h1v1h-1zM630 70h1v1h-1zM630 73h1v1h-1zM630 76h1v1h-1zM630 79h1v1h-1zM630 82h1v1h-1zM630 85h1v1h-1zM630 88h1v1h-1zM630 91h1v1h-1zM630 94h1v1h-1zM630 97h1v1h-1zM630 100h1v1h-1zM630 102h1v2h-1zM630 105h1v2h-1zM630 108h1v2h-1zM630 111h1v2h-1zM630 114h1v2h-1zM630 117h1v2h-1zM630 120h1v1h-1zM630 123h1v1h-1zM630 126h1v1h-1zM630 129h1v1h-1zM630 132h1v1h-1zM630 135h1v1h-1zM630 138h1v1h-1zM630 141h1v1h-1zM630 144h1v1h-1zM630 147h1v1h-1zM630 150h1v1h-1zM630 153h1v1h-1zM630 155h1v2h-1zM630 158h1v2h-1zM630 161h1v2h-1zM630 164h1v2h-1zM630 167h1v2h-1zM630 170h1v2h-1zM630 173h1v2h-1zM630 176h1v1h-1zM630 179h1v1h-1zM630 182h1v1h-1zM630 185h1v1h-1zM630 188h1v1h-1zM630 191h1v1h-1zM630 194h1v1h-1zM630 197h1v1h-1zM630 200h1v1h-1zM630 203h1v1h-1zM630 206h1v1h-1zM630 209h1v1h-1zM630 211h1v2h-1zM630 214h1v2h-1zM630 217h1v5h-1zM630 223h1v2h-1zM630 226h1v2h-1zM630 229h1v1h-1zM630 232h1v1h-1zM630 235h1v1h-1zM630 238h1v1h-1zM630 241h1v1h-1zM630 244h1v1h-1zM630 247h1v1h-1zM630 250h1v1h-1zM630 253h1v1h-1zM630 256h1v1h-1zM630 259h1v1h-1zM630 262h1v1h-1zM630 264h1v2h-1zM630 267h1v2h-1zM630 270h1v2h-1zM630 273h1v5h-1zM630 279h1v2h-1zM630 282h1v2h-1zM630 285h1v1h-1zM630 288h1v1h-1zM630 291h1v1h-1zM630 294h1v1h-1zM630 297h1v1h-1zM630 300h1v1h-1zM630 303h1v1h-1zM630 306h1v1h-1zM630 309h1v1h-1zM630 312h1v1h-1zM630 315h1v1h-1zM630 318h1v1h-1zM630 320h1v2h-1zM630 323h1v2h-1zM630 326h1v2h-1zM630 329h1v1h-1zM645 55h1v2h-1zM645 58h1v2h-1zM645 61h1v2h-1zM645 64h1v2h-1zM645 67h1v1h-1zM645 70h1v1h-1zM645 73h1v1h-1zM645 76h1v1h-1zM645 79h1v1h-1zM645 82h1v1h-1zM645 85h1v1h-1zM645 88h1v1h-1zM645 91h1v1h-1zM645 94h1v1h-1zM645 97h1v1h-1zM645 100h1v1h-1zM645 102h1v2h-1zM645 105h1v2h-1zM645 108h1v2h-1zM645 111h1v2h-1zM645 114h1v2h-1zM645 117h1v2h-1zM645 120h1v1h-1zM645 123h1v1h-1zM645 126h1v1h-1zM645 129h1v1h-1zM645 132h1v1h-1zM645 135h1v1h-1zM645 138h1v1h-1zM645 141h1v1h-1zM645 144h1v1h-1zM645 147h1v1h-1zM645 150h1v1h-1zM645 153h1v1h-1zM645 155h1v2h-1zM645 158h1v2h-1zM645 161h1v2h-1zM645 164h1v2h-1zM645 167h1v2h-1zM645 170h1v2h-1zM645 173h1v2h-1zM645 176h1v1h-1zM645 179h1v1h-1zM645 182h1v1h-1zM645 185h1v1h-1zM645 188h1v1h-1zM645 191h1v1h-1zM645 194h1v1h-1zM645 197h1v1h-1zM645 200h1v1h-1zM645 203h1v1h-1zM645 206h1v1h-1zM645 209h1v1h-1zM645 211h1v2h-1zM645 214h1v2h-1zM645 217h1v2h-1zM645 220h1v2h-1zM645 223h1v2h-1zM645 226h1v2h-1zM645 229h1v1h-1zM645 232h1v1h-1zM645 235h1v1h-1zM645 238h1v1h-1zM645 241h1v1h-1zM645 244h1v1h-1zM645 247h1v1h-1zM645 250h1v1h-1zM645 253h1v1h-1zM645 256h1v1h-1zM645 259h1v1h-1zM645 262h1v1h-1zM645 264h1v2h-1zM645 267h1v2h-1zM645 270h1v2h-1zM645 273h1v2h-1zM645 276h1v2h-1zM645 279h1v2h-1zM645 282h1v2h-1zM645 285h1v1h-1zM645 288h1v1h-1zM645 291h1v1h-1zM645 294h1v1h-1zM645 297h1v1h-1zM645 300h1v1h-1zM645 303h1v1h-1zM645 306h1v1h-1zM645 309h1v1h-1zM645 312h1v1h-1zM645 315h1v1h-1zM645 318h1v1h-1zM645 320h1v2h-1zM645 323h1v2h-1zM645 326h1v2h-1zM645 329h1v1h-1zM659 55h1v2h-1zM659 58h1v2h-1zM659 61h1v2h-1zM659 64h1v2h-1zM659 67h1v1h-1zM659 70h1v1h-1zM659 73h1v1h-1zM659 76h1v1h-1zM659 79h1v1h-1zM659 82h1v1h-1zM659 85h1v1h-1zM659 88h1v1h-1zM659 91h1v1h-1zM659 94h1v1h-1zM659 97h1v1h-1zM659 100h1v1h-1zM659 102h1v2h-1zM659 105h1v2h-1zM659 108h1v2h-1zM659 111h1v2h-1zM659 114h1v2h-1zM659 117h1v2h-1zM659 120h1v1h-1zM659 123h1v1h-1zM659 126h1v1h-1zM659 129h1v1h-1zM659 132h1v1h-1zM659 135h1v1h-1zM659 138h1v1h-1zM659 141h1v1h-1zM659 144h1v1h-1zM659 147h1v1h-1zM659 150h1v1h-1zM659 153h1v1h-1zM659 155h1v2h-1zM659 158h1v2h-1zM659 161h1v2h-1zM659 164h1v2h-1zM659 167h1v2h-1zM659 170h1v2h-1zM659 173h1v2h-1zM659 176h1v1h-1zM659 179h1v1h-1zM659 182h1v1h-1zM659 185h1v1h-1zM659 188h1v1h-1zM659 191h1v1h-1zM659 194h1v1h-1zM659 197h1v1h-1zM659 200h1v1h-1zM659 203h1v1h-1zM659 206h1v1h-1zM659 209h1v1h-1zM659 211h1v2h-1zM659 214h1v2h-1zM659 217h1v5h-1zM659 223h1v2h-1zM659 226h1v2h-1zM659 229h1v1h-1zM659 232h1v1h-1zM659 235h1v1h-1zM659 238h1v1h-1zM659 241h1v1h-1zM659 244h1v1h-1zM659 247h1v1h-1zM659 250h1v1h-1zM659 253h1v1h-1zM659 256h1v1h-1zM659 259h1v1h-1zM659 262h1v1h-1zM659 264h1v2h-1zM659 267h1v2h-1zM659 270h1v2h-1zM659 273h1v5h-1zM659 279h1v2h-1zM659 282h1v2h-1zM659 285h1v1h-1zM659 288h1v1h-1zM659 291h1v1h-1zM659 294h1v1h-1zM659 297h1v1h-1zM659 300h1v1h-1zM659 303h1v1h-1zM659 306h1v1h-1zM659 309h1v1h-1zM659 312h1v1h-1zM659 315h1v1h-1zM659 318h1v1h-1zM659 320h1v2h-1zM659 323h1v2h-1zM659 326h1v2h-1zM659 329h1v1h-1zM673 55h1v2h-1zM673 58h1v2h-1zM673 61h1v2h-1zM673 64h1v2h-1zM673 67h1v1h-1zM673 70h1v1h-1zM673 73h1v1h-1zM673 76h1v1h-1zM673 79h1v1h-1zM673 82h1v1h-1zM673 85h1v1h-1zM673 88h1v1h-1zM673 91h1v1h-1zM673 94h1v1h-1zM673 97h1v1h-1zM673 100h1v1h-1zM673 102h1v2h-1zM673 105h1v2h-1zM673 108h1v2h-1zM673 111h1v2h-1zM673 114h1v2h-1zM673 117h1v2h-1zM673 120h1v1h-1zM673 123h1v1h-1zM673 126h1v1h-1zM673 129h1v1h-1zM673 132h1v1h-1zM673 135h1v1h-1zM673 138h1v1h-1zM673 141h1v1h-1zM673 144h1v1h-1zM673 147h1v1h-1zM673 150h1v1h-1zM673 153h1v1h-1zM673 155h1v2h-1zM673 158h1v2h-1zM673 161h1v2h-1zM673 164h1v2h-1zM673 167h1v2h-1zM673 170h1v2h-1zM673 173h1v2h-1zM673 176h1v1h-1zM673 179h1v1h-1zM673 182h1v1h-1zM673 185h1v1h-1zM673 188h1v1h-1zM673 191h1v1h-1zM673 194h1v1h-1zM673 197h1v1h-1zM673 200h1v1h-1zM673 203h1v1h-1zM673 206h1v1h-1zM673 209h1v1h-1zM673 211h1v2h-1zM673 214h1v2h-1zM673 217h1v2h-1zM673 220h1v2h-1zM673 223h1v2h-1zM673 226h1v2h-1zM673 229h1v1h-1zM673 232h1v1h-1zM673 235h1v1h-1zM673 238h1v1h-1zM673 241h1v1h-1zM673 244h1v1h-1zM673 247h1v1h-1zM673 250h1v1h-1zM673 253h1v1h-1zM673 256h1v1h-1zM673 259h1v1h-1zM673 262h1v1h-1zM673 264h1v2h-1zM673 267h1v2h-1zM673 270h1v2h-1zM673 273h1v2h-1zM673 276h1v2h-1zM673 279h1v2h-1zM673 282h1v2h-1zM673 285h1v1h-1zM673 288h1v1h-1zM673 291h1v1h-1zM673 294h1v1h-1zM673 297h1v1h-1zM673 300h1v1h-1zM673 303h1v1h-1zM673 306h1v1h-1zM673 309h1v1h-1zM673 312h1v1h-1zM673 315h1v1h-1zM673 318h1v1h-1zM673 320h1v2h-1zM673 323h1v2h-1zM673 326h1v2h-1zM673 329h1v1h-1zM688 55h1v2h-1zM688 58h1v2h-1zM688 61h1v2h-1zM688 64h1v2h-1zM688 67h1v1h-1zM688 70h1v1h-1zM688 73h1v1h-1zM688 76h1v1h-1zM688 79h1v1h-1zM688 82h1v1h-1zM688 85h1v1h-1zM688 88h1v1h-1zM688 91h1v1h-1zM688 94h1v1h-1zM688 97h1v1h-1zM688 100h1v1h-1zM688 102h1v2h-1zM688 105h1v2h-1zM688 108h1v2h-1zM688 111h1v2h-1zM688 114h1v2h-1zM688 117h1v2h-1zM688 120h1v1h-1zM688 123h1v1h-1zM688 126h1v1h-1zM688 129h1v1h-1zM688 132h1v1h-1zM688 135h1v1h-1zM688 138h1v1h-1zM688 141h1v1h-1zM688 144h1v1h-1zM688 147h1v1h-1zM688 150h1v1h-1zM688 153h1v1h-1zM688 155h1v2h-1zM688 158h1v2h-1zM688 161h1v2h-1zM688 164h1v2h-1zM688 167h1v2h-1zM688 170h1v2h-1zM688 173h1v2h-1zM688 176h1v1h-1zM688 179h1v1h-1zM688 182h1v1h-1zM688 185h1v1h-1zM688 188h1v1h-1zM688 191h1v1h-1zM688 194h1v1h-1zM688 197h1v1h-1zM688 200h1v1h-1zM688 203h1v1h-1zM688 206h1v1h-1zM688 209h1v1h-1zM688 211h1v2h-1zM688 214h1v2h-1zM688 217h1v5h-1zM688 223h1v2h-1zM688 226h1v2h-1zM688 229h1v1h-1zM688 232h1v1h-1zM688 235h1v1h-1zM688 238h1v1h-1zM688 241h1v1h-1zM688 244h1v1h-1zM688 247h1v1h-1zM688 250h1v1h-1zM688 253h1v1h-1zM688 256h1v1h-1zM688 259h1v1h-1zM688 262h1v1h-1zM688 264h1v2h-1zM688 267h1v2h-1zM688 270h1v2h-1zM688 273h1v5h-1zM688 279h1v2h-1zM688 282h1v2h-1zM688 285h1v1h-1zM688 288h1v1h-1zM688 291h1v1h-1zM688 294h1v1h-1zM688 297h1v1h-1zM688 300h1v1h-1zM688 303h1v1h-1zM688 306h1v1h-1zM688 309h1v1h-1zM688 312h1v1h-1zM688 315h1v1h-1zM688 318h1v1h-1zM688 320h1v2h-1zM688 323h1v2h-1zM688 326h1v2h-1zM688 329h1v1h-1zM102 108h1v1h-1zM104 108h2v1h-2zM107 108h1v1h-1zM110 108h1v1h-1zM113 108h1v1h-1zM116 108h1v1h-1zM119 108h1v1h-1zM122 108h1v1h-1zM125 108h1v1h-1zM128 108h1v1h-1zM131 108h1v1h-1zM134 108h1v1h-1zM137 108h1v1h-1zM140 108h1v1h-1zM143 108h1v1h-1zM145 108h2v1h-2zM148 108h2v1h-2zM151 108h2v1h-2zM154 108h2v1h-2zM157 108h1v1h-1zM160 108h2v1h-2zM163 108h2v1h-2zM166 108h1v1h-1zM169 108h1v1h-1zM175 108h1v1h-1zM178 108h1v1h-1zM181 108h1v1h-1zM184 108h1v1h-1zM190 108h1v1h-1zM193 108h1v1h-1zM196 108h1v1h-1zM199 108h1v1h-1zM202 108h1v1h-1zM204 108h2v1h-2zM207 108h2v1h-2zM210 108h2v1h-2zM213 108h2v1h-2zM216 108h2v1h-2zM219 108h2v1h-2zM222 108h2v1h-2zM225 108h1v1h-1zM228 108h1v1h-1zM231 108h1v1h-1zM234 108h1v1h-1zM237 108h1v1h-1zM240 108h1v1h-1zM243 108h1v1h-1zM246 108h1v1h-1zM249 108h1v1h-1zM252 108h1v1h-1zM255 108h1v1h-1zM261 108h1v1h-1zM263 108h2v1h-2zM266 108h2v1h-2zM269 108h2v1h-2zM272 108h1v1h-1zM275 108h2v1h-2zM278 108h2v1h-2zM281 108h2v1h-2zM284 108h1v1h-1zM290 108h1v1h-1zM293 108h1v1h-1zM296 108h1v1h-1zM299 108h1v1h-1zM302 108h1v1h-1zM305 108h1v1h-1zM308 108h1v1h-1zM311 108h1v1h-1zM314 108h1v1h-1zM317 108h1v1h-1zM320 108h1v1h-1zM322 108h2v1h-2zM325 108h2v1h-2zM328 108h2v1h-2zM331 108h2v1h-2zM334 108h2v1h-2zM337 108h2v1h-2zM340 108h2v1h-2zM343 108h1v1h-1zM346 108h1v1h-1zM349 108h1v1h-1zM352 108h1v1h-1zM355 108h1v1h-1zM361 108h1v1h-1zM364 108h1v1h-1zM367 108h1v1h-1zM370 108h1v1h-1zM376 108h1v1h-1zM379 108h1v1h-1zM381 108h2v1h-2zM384 108h2v1h-2zM388 108h1v1h-1zM390 108h2v1h-2zM393 108h2v1h-2zM396 108h2v1h-2zM399 108h2v1h-2zM402 108h1v1h-1zM405 108h1v1h-1zM408 108h1v1h-1zM411 108h1v1h-1zM414 108h1v1h-1zM417 108h1v1h-1zM420 108h1v1h-1zM423 108h1v1h-1zM426 108h1v1h-1zM429 108h1v1h-1zM432 108h1v1h-1zM435 108h1v1h-1zM438 108h1v1h-1zM440 108h2v1h-2zM443 108h1v1h-1zM446 108h2v1h-2zM449 108h2v1h-2zM452 108h2v1h-2zM455 108h2v1h-2zM458 108h1v1h-1zM461 108h1v1h-1zM464 108h1v1h-1zM467 108h1v1h-1zM470 108h1v1h-1zM476 108h1v1h-1zM479 108h1v1h-1zM482 108h1v1h-1zM485 108h1v1h-1zM488 108h1v1h-1zM491 108h1v1h-1zM494 108h1v1h-1zM497 108h1v1h-1zM499 108h2v1h-2zM503 108h1v1h-1zM505 108h2v1h-2zM508 108h2v1h-2zM511 108h2v1h-2zM514 108h2v1h-2zM517 108h2v1h-2zM520 108h1v1h-1zM523 108h1v1h-1zM526 108h1v1h-1zM529 108h1v1h-1zM532 108h1v1h-1zM535 108h1v1h-1zM538 108h1v1h-1zM541 108h1v1h-1zM544 108h1v1h-1zM547 108h1v1h-1zM550 108h1v1h-1zM553 108h1v1h-1zM556 108h1v1h-1zM558 108h1v1h-1zM561 108h2v1h-2zM564 108h2v1h-2zM567 108h2v1h-2zM570 108h2v1h-2zM574 108h1v1h-1zM576 108h2v1h-2zM579 108h1v1h-1zM582 108h1v1h-1zM585 108h1v1h-1zM588 108h1v1h-1zM591 108h1v1h-1zM594 108h1v1h-1zM597 108h1v1h-1zM600 108h1v1h-1zM603 108h1v1h-1zM606 108h1v1h-1zM609 108h1v1h-1zM612 108h1v1h-1zM615 108h1v1h-1zM617 108h2v1h-2zM620 108h2v1h-2zM623 108h2v1h-2zM626 108h2v1h-2zM629 108h1v1h-1zM632 108h2v1h-2zM635 108h2v1h-2zM638 108h1v1h-1zM641 108h1v1h-1zM644 108h1v1h-1zM647 108h1v1h-1zM650 108h1v1h-1zM653 108h1v1h-1zM656 108h1v1h-1zM662 108h1v1h-1zM665 108h1v1h-1zM668 108h1v1h-1zM671 108h1v1h-1zM674 108h1v1h-1zM676 108h2v1h-2zM679 108h2v1h-2zM682 108h2v1h-2zM685 108h2v1h-2zM689 108h1v1h-1zM691 108h2v1h-2zM694 108h2v1h-2zM697 108h1v1h-1zM700 108h1v1h-1zM102 164h1v1h-1zM104 164h2v1h-2zM107 164h1v1h-1zM110 164h1v1h-1zM113 164h1v1h-1zM116 164h1v1h-1zM119 164h1v1h-1zM122 164h1v1h-1zM125 164h1v1h-1zM128 164h1v1h-1zM131 164h1v1h-1zM134 164h1v1h-1zM137 164h1v1h-1zM140 164h1v1h-1zM143 164h1v1h-1zM145 164h2v1h-2zM148 164h2v1h-2zM151 164h2v1h-2zM154 164h2v1h-2zM157 164h1v1h-1zM160 164h2v1h-2zM163 164h2v1h-2zM166 164h1v1h-1zM169 164h1v1h-1zM175 164h1v1h-1zM178 164h1v1h-1zM181 164h1v1h-1zM184 164h1v1h-1zM190 164h1v1h-1zM193 164h1v1h-1zM196 164h1v1h-1zM199 164h1v1h-1zM202 164h1v1h-1zM204 164h2v1h-2zM207 164h2v1h-2zM210 164h2v1h-2zM213 164h2v1h-2zM216 164h2v1h-2zM219 164h2v1h-2zM222 164h2v1h-2zM225 164h1v1h-1zM228 164h1v1h-1zM231 164h1v1h-1zM234 164h1v1h-1zM237 164h1v1h-1zM240 164h1v1h-1zM243 164h1v1h-1zM246 164h1v1h-1zM249 164h1v1h-1zM252 164h1v1h-1zM255 164h1v1h-1zM261 164h1v1h-1zM263 164h2v1h-2zM266 164h2v1h-2zM269 164h2v1h-2zM272 164h1v1h-1zM275 164h2v1h-2zM278 164h2v1h-2zM281 164h2v1h-2zM284 164h1v1h-1zM290 164h1v1h-1zM293 164h1v1h-1zM296 164h1v1h-1zM299 164h1v1h-1zM302 164h1v1h-1zM305 164h1v1h-1zM308 164h1v1h-1zM311 164h1v1h-1zM314 164h1v1h-1zM317 164h1v1h-1zM320 164h1v1h-1zM322 164h2v1h-2zM325 164h2v1h-2zM328 164h2v1h-2zM331 164h2v1h-2zM334 164h2v1h-2zM337 164h2v1h-2zM340 164h2v1h-2zM343 164h1v1h-1zM346 164h1v1h-1zM349 164h1v1h-1zM352 164h1v1h-1zM355 164h1v1h-1zM361 164h1v1h-1zM364 164h1v1h-1zM367 164h1v1h-1zM370 164h1v1h-1zM376 164h1v1h-1zM379 164h1v1h-1zM381 164h2v1h-2zM384 164h2v1h-2zM388 164h1v1h-1zM390 164h2v1h-2zM393 164h2v1h-2zM396 164h2v1h-2zM399 164h2v1h-2zM402 164h1v1h-1zM405 164h1v1h-1zM408 164h1v1h-1zM411 164h1v1h-1zM414 164h1v1h-1zM417 164h1v1h-1zM420 164h1v1h-1zM423 164h1v1h-1zM426 164h1v1h-1zM429 164h1v1h-1zM432 164h1v1h-1zM435 164h1v1h-1zM438 164h1v1h-1zM440 164h2v1h-2zM443 164h1v1h-1zM446 164h2v1h-2zM449 164h2v1h-2zM452 164h2v1h-2zM455 164h2v1h-2zM458 164h1v1h-1zM461 164h1v1h-1zM464 164h1v1h-1zM467 164h1v1h-1zM470 164h1v1h-1zM476 164h1v1h-1zM479 164h1v1h-1zM482 164h1v1h-1zM485 164h1v1h-1zM488 164h1v1h-1zM491 164h1v1h-1zM494 164h1v1h-1zM497 164h1v1h-1zM499 164h2v1h-2zM503 164h1v1h-1zM505 164h2v1h-2zM508 164h2v1h-2zM511 164h2v1h-2zM514 164h2v1h-2zM517 164h2v1h-2zM520 164h1v1h-1zM523 164h1v1h-1zM526 164h1v1h-1zM529 164h1v1h-1zM532 164h1v1h-1zM535 164h1v1h-1zM538 164h1v1h-1zM541 164h1v1h-1zM544 164h1v1h-1zM547 164h1v1h-1zM550 164h1v1h-1zM553 164h1v1h-1zM556 164h1v1h-1zM558 164h1v1h-1zM561 164h2v1h-2zM564 164h2v1h-2zM567 164h2v1h-2zM570 164h2v1h-2zM574 164h1v1h-1zM576 164h2v1h-2zM579 164h1v1h-1zM582 164h1v1h-1zM585 164h1v1h-1zM588 164h1v1h-1zM591 164h1v1h-1zM594 164h1v1h-1zM597 164h1v1h-1zM600 164h1v1h-1zM603 164h1v1h-1zM606 164h1v1h-1zM609 164h1v1h-1zM612 164h1v1h-1zM615 164h1v1h-1zM617 164h2v1h-2zM620 164h2v1h-2zM623 164h2v1h-2zM626 164h2v1h-2zM629 164h1v1h-1zM632 164h2v1h-2zM635 164h2v1h-2zM638 164h1v1h-1zM641 164h1v1h-1zM644 164h1v1h-1zM647 164h1v1h-1zM650 164h1v1h-1zM653 164h1v1h-1zM656 164h1v1h-1zM662 164h1v1h-1zM665 164h1v1h-1zM668 164h1v1h-1zM671 164h1v1h-1zM674 164h1v1h-1zM676 164h2v1h-2zM679 164h2v1h-2zM682 164h2v1h-2zM685 164h2v1h-2zM689 164h1v1h-1zM691 164h2v1h-2zM694 164h2v1h-2zM697 164h1v1h-1zM700 164h1v1h-1zM102 219h1v1h-1zM104 219h2v1h-2zM107 219h1v1h-1zM110 219h1v1h-1zM113 219h1v1h-1zM116 219h1v1h-1zM119 219h1v1h-1zM122 219h1v1h-1zM125 219h1v1h-1zM128 219h1v1h-1zM131 219h1v1h-1zM134 219h1v1h-1zM137 219h1v1h-1zM140 219h1v1h-1zM143 219h1v1h-1zM145 219h2v1h-2zM148 219h2v1h-2zM151 219h2v1h-2zM154 219h2v1h-2zM157 219h1v1h-1zM160 219h2v1h-2zM163 219h2v1h-2zM166 219h1v1h-1zM169 219h1v1h-1zM175 219h1v1h-1zM178 219h1v1h-1zM181 219h1v1h-1zM184 219h1v1h-1zM190 219h1v1h-1zM193 219h1v1h-1zM196 219h1v1h-1zM199 219h1v1h-1zM202 219h1v1h-1zM204 219h2v1h-2zM207 219h2v1h-2zM210 219h2v1h-2zM213 219h2v1h-2zM216 219h2v1h-2zM219 219h2v1h-2zM222 219h2v1h-2zM225 219h1v1h-1zM228 219h1v1h-1zM231 219h1v1h-1zM234 219h1v1h-1zM237 219h1v1h-1zM240 219h1v1h-1zM243 219h1v1h-1zM246 219h1v1h-1zM249 219h1v1h-1zM252 219h1v1h-1zM255 219h1v1h-1zM261 219h1v1h-1zM263 219h2v1h-2zM266 219h2v1h-2zM269 219h2v1h-2zM272 219h1v1h-1zM275 219h2v1h-2zM278 219h2v1h-2zM281 219h2v1h-2zM284 219h1v1h-1zM290 219h1v1h-1zM293 219h1v1h-1zM296 219h1v1h-1zM299 219h1v1h-1zM302 219h1v1h-1zM305 219h1v1h-1zM308 219h1v1h-1zM311 219h1v1h-1zM314 219h1v1h-1zM317 219h1v1h-1zM320 219h1v1h-1zM322 219h2v1h-2zM325 219h2v1h-2zM328 219h2v1h-2zM331 219h2v1h-2zM334 219h2v1h-2zM337 219h2v1h-2zM340 219h2v1h-2zM343 219h1v1h-1zM346 219h1v1h-1zM349 219h1v1h-1zM352 219h1v1h-1zM355 219h1v1h-1zM361 219h1v1h-1zM364 219h1v1h-1zM367 219h1v1h-1zM370 219h1v1h-1zM376 219h1v1h-1zM379 219h1v1h-1zM381 219h2v1h-2zM384 219h2v1h-2zM388 219h1v1h-1zM390 219h2v1h-2zM393 219h2v1h-2zM396 219h2v1h-2zM399 219h2v1h-2zM402 219h1v1h-1zM405 219h1v1h-1zM408 219h1v1h-1zM411 219h1v1h-1zM414 219h1v1h-1zM417 219h1v1h-1zM420 219h1v1h-1zM423 219h1v1h-1zM426 219h1v1h-1zM429 219h1v1h-1zM432 219h1v1h-1zM435 219h1v1h-1zM438 219h1v1h-1zM440 219h2v1h-2zM443 219h1v1h-1zM446 219h2v1h-2zM449 219h2v1h-2zM452 219h2v1h-2zM455 219h2v1h-2zM458 219h1v1h-1zM461 219h1v1h-1zM464 219h1v1h-1zM467 219h1v1h-1zM470 219h1v1h-1zM476 219h1v1h-1zM479 219h1v1h-1zM482 219h1v1h-1zM485 219h1v1h-1zM488 219h1v1h-1zM491 219h1v1h-1zM494 219h1v1h-1zM497 219h1v1h-1zM499 219h2v1h-2zM503 219h1v1h-1zM505 219h2v1h-2zM508 219h2v1h-2zM511 219h2v1h-2zM514 219h2v1h-2zM517 219h2v1h-2zM520 219h1v1h-1zM523 219h1v1h-1zM526 219h1v1h-1zM529 219h1v1h-1zM532 219h1v1h-1zM535 219h1v1h-1zM538 219h1v1h-1zM541 219h1v1h-1zM544 219h1v1h-1zM547 219h1v1h-1zM550 219h1v1h-1zM553 219h1v1h-1zM556 219h1v1h-1zM558 219h1v1h-1zM561 219h2v1h-2zM564 219h2v1h-2zM567 219h2v1h-2zM570 219h2v1h-2zM574 219h1v1h-1zM576 219h2v1h-2zM579 219h1v1h-1zM582 219h1v1h-1zM585 219h1v1h-1zM588 219h1v1h-1zM591 219h1v1h-1zM594 219h1v1h-1zM597 219h1v1h-1zM600 219h1v1h-1zM603 219h1v1h-1zM606 219h1v1h-1zM609 219h1v1h-1zM612 219h1v1h-1zM615 219h1v1h-1zM617 219h2v1h-2zM620 219h2v1h-2zM623 219h2v1h-2zM626 219h2v1h-2zM629 219h1v1h-1zM632 219h2v1h-2zM635 219h2v1h-2zM638 219h1v1h-1zM641 219h1v1h-1zM644 219h1v1h-1zM647 219h1v1h-1zM650 219h1v1h-1zM653 219h1v1h-1zM656 219h1v1h-1zM662 219h1v1h-1zM665 219h1v1h-1zM668 219h1v1h-1zM671 219h1v1h-1zM674 219h1v1h-1zM676 219h2v1h-2zM679 219h2v1h-2zM682 219h2v1h-2zM685 219h2v1h-2zM689 219h1v1h-1zM691 219h2v1h-2zM694 219h2v1h-2zM697 219h1v1h-1zM700 219h1v1h-1zM102 275h1v1h-1zM104 275h2v1h-2zM107 275h1v1h-1zM110 275h1v1h-1zM113 275h1v1h-1zM116 275h1v1h-1zM119 275h1v1h-1zM122 275h1v1h-1zM125 275h1v1h-1zM128 275h1v1h-1zM131 275h1v1h-1zM134 275h1v1h-1zM137 275h1v1h-1zM140 275h1v1h-1zM143 275h1v1h-1zM145 275h2v1h-2zM148 275h2v1h-2zM151 275h2v1h-2zM154 275h2v1h-2zM157 275h1v1h-1zM160 275h2v1h-2zM163 275h2v1h-2zM166 275h1v1h-1zM169 275h1v1h-1zM175 275h1v1h-1zM178 275h1v1h-1zM181 275h1v1h-1zM184 275h1v1h-1zM190 275h1v1h-1zM193 275h1v1h-1zM196 275h1v1h-1zM199 275h1v1h-1zM202 275h1v1h-1zM204 275h2v1h-2zM207 275h2v1h-2zM210 275h2v1h-2zM213 275h2v1h-2zM216 275h2v1h-2zM219 275h2v1h-2zM222 275h2v1h-2zM225 275h1v1h-1zM228 275h1v1h-1zM231 275h1v1h-1zM234 275h1v1h-1zM237 275h1v1h-1zM240 275h1v1h-1zM243 275h1v1h-1zM246 275h1v1h-1zM249 275h1v1h-1zM252 275h1v1h-1zM255 275h1v1h-1zM261 275h1v1h-1zM263 275h2v1h-2zM266 275h2v1h-2zM269 275h2v1h-2zM272 275h1v1h-1zM275 275h2v1h-2zM278 275h2v1h-2zM281 275h2v1h-2zM284 275h1v1h-1zM290 275h1v1h-1zM293 275h1v1h-1zM296 275h1v1h-1zM299 275h1v1h-1zM302 275h1v1h-1zM305 275h1v1h-1zM308 275h1v1h-1zM311 275h1v1h-1zM314 275h1v1h-1zM317 275h1v1h-1zM320 275h1v1h-1zM322 275h2v1h-2zM325 275h2v1h-2zM328 275h2v1h-2zM331 275h2v1h-2zM334 275h2v1h-2zM337 275h2v1h-2zM340 275h2v1h-2zM343 275h1v1h-1zM346 275h1v1h-1zM349 275h1v1h-1zM352 275h1v1h-1zM355 275h1v1h-1zM361 275h1v1h-1zM364 275h1v1h-1zM367 275h1v1h-1zM370 275h1v1h-1zM376 275h1v1h-1zM379 275h1v1h-1zM381 275h2v1h-2zM384 275h2v1h-2zM388 275h1v1h-1zM390 275h2v1h-2zM393 275h2v1h-2zM396 275h2v1h-2zM399 275h2v1h-2zM402 275h1v1h-1zM405 275h1v1h-1zM408 275h1v1h-1zM411 275h1v1h-1zM414 275h1v1h-1zM417 275h1v1h-1zM420 275h1v1h-1zM423 275h1v1h-1zM426 275h1v1h-1zM429 275h1v1h-1zM432 275h1v1h-1zM435 275h1v1h-1zM438 275h1v1h-1zM440 275h2v1h-2zM443 275h1v1h-1zM446 275h2v1h-2zM449 275h2v1h-2zM452 275h2v1h-2zM455 275h2v1h-2zM458 275h1v1h-1zM461 275h1v1h-1zM464 275h1v1h-1zM467 275h1v1h-1zM470 275h1v1h-1zM476 275h1v1h-1zM479 275h1v1h-1zM482 275h1v1h-1zM485 275h1v1h-1zM488 275h1v1h-1zM491 275h1v1h-1zM494 275h1v1h-1zM497 275h1v1h-1zM499 275h2v1h-2zM503 275h1v1h-1zM505 275h2v1h-2zM508 275h2v1h-2zM511 275h2v1h-2zM514 275h2v1h-2zM517 275h2v1h-2zM520 275h1v1h-1zM523 275h1v1h-1zM526 275h1v1h-1zM529 275h1v1h-1zM532 275h1v1h-1zM535 275h1v1h-1zM538 275h1v1h-1zM541 275h1v1h-1zM544 275h1v1h-1zM547 275h1v1h-1zM550 275h1v1h-1zM553 275h1v1h-1zM556 275h1v1h-1zM558 275h1v1h-1zM561 275h2v1h-2zM564 275h2v1h-2zM567 275h2v1h-2zM570 275h2v1h-2zM574 275h1v1h-1zM576 275h2v1h-2zM579 275h1v1h-1zM582 275h1v1h-1zM585 275h1v1h-1zM588 275h1v1h-1zM591 275h1v1h-1zM594 275h1v1h-1zM597 275h1v1h-1zM600 275h1v1h-1zM603 275h1v1h-1zM606 275h1v1h-1zM609 275h1v1h-1zM612 275h1v1h-1zM615 275h1v1h-1zM617 275h2v1h-2zM620 275h2v1h-2zM623 275h2v1h-2zM626 275h2v1h-2zM629 275h1v1h-1zM632 275h2v1h-2zM635 275h2v1h-2zM638 275h1v1h-1zM641 275h1v1h-1zM644 275h1v1h-1zM647 275h1v1h-1zM650 275h1v1h-1zM653 275h1v1h-1zM656 275h1v1h-1zM662 275h1v1h-1zM665 275h1v1h-1zM668 275h1v1h-1zM671 275h1v1h-1zM674 275h1v1h-1zM676 275h2v1h-2zM679 275h2v1h-2zM682 275h2v1h-2zM685 275h2v1h-2zM689 275h1v1h-1zM691 275h2v1h-2zM694 275h2v1h-2zM697 275h1v1h-1zM700 275h1v1h-1z"/>
<rect x="702" y="53" width="1" height="278" fill="#505050"/>
<rect x="101" y="330" width="602" height="1" fill="#505050"/>
<rect x="101" y="53" width="602" height="1" fill="#4a4a4a"/>
<rect x="101" y="53" width="1" height="278" fill="#4a4a4a"/>
<path fill="#111" d="M101 53h1v1h-1zM101 55h1v2h-1zM101 58h1v2h-1zM101 61h1v2h-1zM101 64h1v2h-1zM101 67h1v2h-1zM101 70h1v1h-1zM101 73h1v1h-1zM101 76h1v1h-1zM101 79h1v1h-1zM101 82h1v1h-1zM101 85h1v1h-1zM101 88h1v1h-1zM101 91h1v1h-1zM101 94h1v1h-1zM101 96h1v2h-1zM101 99h1v2h-1zM101 102h1v2h-1zM101 105h1v2h-1zM101 108h1v2h-1zM101 111h1v2h-1zM101 114h1v2h-1zM101 117h1v2h-1zM101 120h1v2h-1zM101 123h1v2h-1zM101 126h1v1h-1zM101 129h1v1h-1zM101 132h1v1h-1zM101 135h1v1h-1zM101 138h1v1h-1zM101 141h1v1h-1zM101 144h1v1h-1zM101 147h1v1h-1zM101 150h1v1h-1zM101 152h1v2h-1zM101 155h1v2h-1zM101 158h1v2h-1zM101 161h1v2h-1zM101 164h1v2h-1zM101 167h1v2h-1zM101 170h1v2h-1zM101 173h1v2h-1zM101 176h1v2h-1zM101 179h1v1h-1zM101 182h1v1h-1zM101 185h1v1h-1zM101 188h1v1h-1zM101 191h1v1h-1zM101 194h1v1h-1zM101 197h1v1h-1zM101 200h1v1h-1zM101 203h1v1h-1zM101 205h1v2h-1zM101 208h1v2h-1zM101 211h1v2h-1zM101 214h1v2h-1zM101 217h1v2h-1zM101 220h1v2h-1zM101 223h1v2h-1zM101 226h1v2h-1zM101 229h1v2h-1zM101 232h1v2h-1zM101 235h1v1h-1zM101 238h1v1h-1zM101 241h1v1h-1zM101 244h1v1h-1zM101 247h1v1h-1zM101 250h1v1h-1zM101 253h1v1h-1zM101 256h1v1h-1zM101 259h1v1h-1zM101 261h1v2h-1zM101 264h1v2h-1zM101 267h1v2h-1zM101 270h1v2h-1zM101 273h1v2h-1zM101 276h1v2h-1zM101 279h1v2h-1zM101 282h1v2h-1zM101 285h1v2h-1zM101 288h1v1h-1zM101 291h1v1h-1zM101 294h1v1h-1zM101 297h1v1h-1zM101 300h1v1h-1zM101 303h1v1h-1zM101 306h1v1h-1zM101 309h1v1h-1zM101 312h1v1h-1zM101 314h1v2h-1zM101 317h1v2h-1zM101 320h1v2h-1zM101 323h1v2h-1zM101 326h1v2h-1zM101 329h1v2h-1zM101 53h1v1h-1zM104 53h1v1h-1zM107 53h1v1h-1zM110 53h1v1h-1zM112 53h2v1h-2zM115 53h2v1h-2zM118 53h2v1h-2zM121 53h2v1h-2zM124 53h2v1h-2zM127 53h2v1h-2zM130 53h2v1h-2zM133 53h2v1h-2zM136 53h2v1h-2zM139 53h2v1h-2zM142 53h1v1h-1zM145 53h1v1h-1zM148 53h1v1h-1zM151 53h1v1h-1zM154 53h1v1h-1zM157 53h1v1h-1zM160 53h1v1h-1zM163 53h1v1h-1zM166 53h1v1h-1zM169 53h1v1h-1zM171 53h2v1h-2zM174 53h2v1h-2zM177 53h2v1h-2zM180 53h2v1h-2zM183 53h2v1h-2zM186 53h2v1h-2zM189 53h2v1h-2zM192 53h2v1h-2zM195 53h2v1h-2zM198 53h2v1h-2zM201 53h1v1h-1zM204 53h1v1h-1zM207 53h1v1h-1zM210 53h1v1h-1zM213 53h1v1h-1zM216 53h1v1h-1zM219 53h1v1h-1zM222 53h1v1h-1zM225 53h1v1h-1zM228 53h1v1h-1zM230 53h2v1h-2zM233 53h2v1h-2zM236 53h2v1h-2zM239 53h2v1h-2zM242 53h2v1h-2zM245 53h2v1h-2zM248 53h2v1h-2zM251 53h2v1h-2zM254 53h2v1h-2zM257 53h2v1h-2zM260 53h1v1h-1zM263 53h1v1h-1zM266 53h1v1h-1zM269 53h1v1h-1zM272 53h1v1h-1zM275 53h1v1h-1zM278 53h1v1h-1zM281 53h1v1h-1zM284 53h1v1h-1zM287 53h1v1h-1zM289 53h2v1h-2zM292 53h2v1h-2zM295 53h2v1h-2zM298 53h2v1h-2zM301 53h2v1h-2zM304 53h2v1h-2zM307 53h2v1h-2zM310 53h2v1h-2zM313 53h2v1h-2zM316 53h2v1h-2zM319 53h1v1h-1zM322 53h1v1h-1zM325 53h1v1h-1zM328 53h1v1h-1zM331 53h1v1h-1zM334 53h1v1h-1zM337 53h1v1h-1zM340 53h1v1h-1zM343 53h1v1h-1zM346 53h1v1h-1zM348 53h2v1h-2zM351 53h2v1h-2zM354 53h2v1h-2zM357 53h2v1h-2zM360 53h2v1h-2zM363 53h2v1h-2zM366 53h2v1h-2zM369 53h2v1h-2zM372 53h2v1h-2zM375 53h2v1h-2zM378 53h1v1h-1zM381 53h1v1h-1zM384 53h1v1h-1zM387 53h1v1h-1zM390 53h1v1h-1zM393 53h1v1h-1zM396 53h1v1h-1zM399 53h1v1h-1zM402 53h1v1h-1zM405 53h1v1h-1zM407 53h2v1h-2zM410 53h2v1h-2zM413 53h2v1h-2zM416 53h2v1h-2zM419 53h2v1h-2zM422 53h2v1h-2zM425 53h2v1h-2zM428 53h2v1h-2zM431 53h2v1h-2zM434 53h2v1h-2zM437 53h1v1h-1zM440 53h1v1h-1zM443 53h1v1h-1zM446 53h1v1h-1zM449 53h1v1h-1zM452 53h1v1h-1zM455 53h1v1h-1zM458 53h1v1h-1zM461 53h1v1h-1zM464 53h1v1h-1zM466 53h2v1h-2zM469 53h2v1h-2zM472 53h2v1h-2zM475 53h2v1h-2zM478 53h2v1h-2zM481 53h2v1h-2zM484 53h2v1h-2zM487 53h2v1h-2zM490 53h2v1h-2zM493 53h2v1h-2zM496 53h1v1h-1zM499 53h1v1h-1zM502 53h1v1h-1zM505 53h1v1h-1zM508 53h1v1h-1zM511 53h1v1h-1zM514 53h1v1h-1zM517 53h1v1h-1zM520 53h1v1h-1zM523 53h1v1h-1zM525 53h2v1h-2zM528 53h2v1h-2zM531 53h2v1h-2zM534 53h2v1h-2zM537 53h2v1h-2zM540 53h2v1h-2zM543 53h2v1h-2zM546 53h2v1h-2zM549 53h2v1h-2zM552 53h2v1h-2zM555 53h1v1h-1zM558 53h1v1h-1zM561 53h1v1h-1zM564 53h1v1h-1zM567 53h1v1h-1zM570 53h1v1h-1zM573 53h1v1h-1zM576 53h1v1h-1zM579 53h1v1h-1zM582 53h1v1h-1zM584 53h2v1h-2zM587 53h2v1h-2zM590 53h2v1h-2zM593 53h2v1h-2zM596 53h2v1h-2zM599 53h2v1h-2zM602 53h2v1h-2zM605 53h2v1h-2zM608 53h2v1h-2zM611 53h2v1h-2zM614 53h1v1h-1zM617 53h1v1h-1zM620 53h1v1h-1zM623 53h1v1h-1zM626 53h1v1h-1zM629 53h1v1h-1zM632 53h1v1h-1zM635 53h1v1h-1zM638 53h1v1h-1zM641 53h1v1h-1zM643 53h2v1h-2zM646 53h2v1h-2zM649 53h2v1h-2zM652 53h2v1h-2zM655 53h2v1h-2zM658 53h2v1h-2zM661 53h2v1h-2zM664 53h2v1h-2zM667 53h2v1h-2zM670 53h2v1h-2zM673 53h1v1h-1zM676 53h1v1h-1zM679 53h1v1h-1zM682 53h1v1h-1zM685 53h1v1h-1zM688 53h1v1h-1zM691 53h1v1h-1zM694 53h1v1h-1zM697 53h1v1h-1zM700 53h1v1h-1zM702 53h1v1h-1z"/>
<text transform="translate(91.0,56.8) scale(0.95,1)" text-anchor="end" class="yl">100</text>
<text transform="translate(91.0,113.2) scale(0.95,1)" text-anchor="end" class="yl">80</text>
<text transform="translate(91.0,168.6) scale(0.95,1)" text-anchor="end" class="yl">60</text>
<text transform="translate(91.0,224.0) scale(0.95,1)" text-anchor="end" class="yl">40</text>
<text transform="translate(91.0,279.4) scale(0.95,1)" text-anchor="end" class="yl">20</text>
<text transform="translate(91.0,334.8) scale(0.95,1)" text-anchor="end" class="yl">0</text>
<text transform="translate(104.5,341.5) rotate(-90)" text-anchor="end" class="xl">2022/06</text>
<text transform="translate(147.4,341.5) rotate(-90)" text-anchor="end" class="xl">2022/09</text>
<text transform="translate(190.4,341.5) rotate(-90)" text-anchor="end" class="xl">2022/12</text>
<text transform="translate(233.3,341.5) rotate(-90)" text-anchor="end" class="xl">2023/03</text>
<text transform="translate(276.2,341.5) rotate(-90)" text-anchor="end" class="xl">2023/06</text>
<text transform="translate(319.1,341.5) rotate(-90)" text-anchor="end" class="xl">2023/09</text>
<text transform="translate(362.1,341.5) rotate(-90)" text-anchor="end" class="xl">2023/12</text>
<text transform="translate(405.0,341.5) rotate(-90)" text-anchor="end" class="xl">2024/03</text>
<text transform="translate(447.9,341.5) rotate(-90)" text-anchor="end" class="xl">2024/06</text>
<text transform="translate(490.9,341.5) rotate(-90)" text-anchor="end" class="xl">2024/09</text>
<text transform="translate(533.8,341.5) rotate(-90)" text-anchor="end" class="xl">2024/12</text>
<text transform="translate(576.7,341.5) rotate(-90)" text-anchor="end" class="xl">2025/03</text>
<text transform="translate(619.6,341.5) rotate(-90)" text-anchor="end" class="xl">2025/06</text>
<text transform="translate(662.6,341.5) rotate(-90)" text-anchor="end" class="xl">2025/09</text>
<text transform="translate(705.5,341.5) rotate(-90)" text-anchor="end" class="xl">2025/12</text>
<text transform="translate(17,200.7) rotate(-90)" text-anchor="middle" style="font-size:12.4px;fill:#444">(百万円)</text>
<rect x="223" y="414" width="32" height="2" fill="#f00"/>
<text transform="translate(265.5,420) scale(1,1.12)" class="lg">3</text><text x="273.5" y="420" class="lg">年</text>
<rect x="317" y="414" width="32" height="2" fill="#00f"/>
<text transform="translate(359.5,420) scale(1,1.12)" class="lg">5</text><text x="367.5" y="420" class="lg">年</text>
<rect x="410" y="414" width="32" height="2" fill="#0ff"/>
<text transform="translate(452.5,420) scale(1,1.12)" class="lg">7</text><text x="460.5" y="420" class="lg">年</text>
<rect x="504" y="414" width="32" height="2" fill="#0c800c"/>
<text transform="translate(550.7,420) scale(1,1.12)" class="lg" text-anchor="middle">1</text><text transform="translate(557.6,420) scale(1,1.12)" class="lg" text-anchor="middle">0</text><text x="570.6" y="420" class="lg" text-anchor="middle">年</text>
</svg>
</body></html>
